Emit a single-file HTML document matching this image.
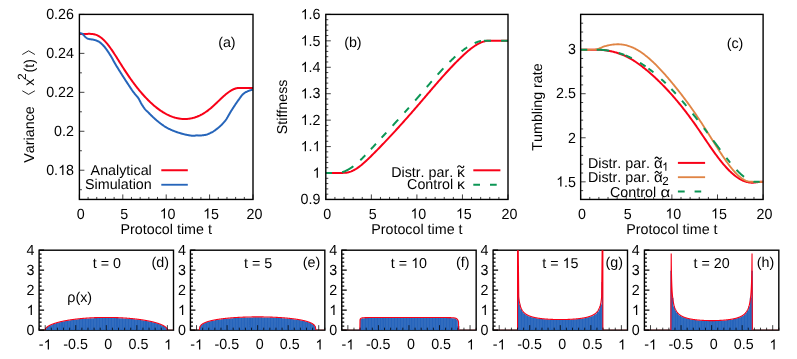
<!DOCTYPE html>
<html><head><meta charset="utf-8"><title>figure</title>
<style>html,body{margin:0;padding:0;background:#fff;overflow:hidden}svg{display:block}text{font-family:"Liberation Sans",sans-serif;font-kerning:none;text-rendering:geometricPrecision}</style>
</head><body>
<svg width="797" height="359" viewBox="0 0 797 359" font-family="'Liberation Sans', sans-serif" fill="#000">
<rect width="797" height="359" fill="#fff"/>
<g opacity="0.999">
<text transform="translate(76.82 218.5) scale(1 1.03)" font-size="14.3" xml:space="preserve">0</text>
<text transform="translate(120.22 218.5) scale(1 1.03)" font-size="14.3" xml:space="preserve">5</text>
<path d="M763 0h-180v1147q-65 -62 -170.5 -124t-189.5 -93v174q151 71 264 172t160 196h116v-1472z" transform="translate(159.75 218.5) scale(0.00688 -0.00698)"/>
<text transform="translate(167.6 218.5) scale(1 1.03)" font-size="14.3" xml:space="preserve">0</text>
<path d="M763 0h-180v1147q-65 -62 -170.5 -124t-189.5 -93v174q151 71 264 172t160 196h116v-1472z" transform="translate(203.15 218.5) scale(0.00688 -0.00698)"/>
<text transform="translate(211 218.5) scale(1 1.03)" font-size="14.3" xml:space="preserve">5</text>
<text transform="translate(246.45 218.5) scale(1 1.03)" font-size="14.3" xml:space="preserve">20</text>
<path d="M79.4 199.45v-5M88.08 199.45v-2.5M96.76 199.45v-2.5M105.44 199.45v-2.5M114.12 199.45v-2.5M122.8 199.45v-5M131.48 199.45v-2.5M140.16 199.45v-2.5M148.84 199.45v-2.5M157.52 199.45v-2.5M166.2 199.45v-5M174.88 199.45v-2.5M183.56 199.45v-2.5M192.24 199.45v-2.5M200.92 199.45v-2.5M209.6 199.45v-5M218.28 199.45v-2.5M226.96 199.45v-2.5M235.64 199.45v-2.5M244.32 199.45v-2.5M253 199.45v-5" stroke="#000" stroke-width="0.75" fill="none"/>
<text transform="translate(46.17 174.98) scale(1 1.03)" font-size="14.3" xml:space="preserve">0.</text>
<path d="M763 0h-180v1147q-65 -62 -170.5 -124t-189.5 -93v174q151 71 264 172t160 196h116v-1472z" transform="translate(58.19 174.98) scale(0.00688 -0.00698)"/>
<text transform="translate(66.05 174.98) scale(1 1.03)" font-size="14.3" xml:space="preserve">8</text>
<text transform="translate(54.12 136.02) scale(1 1.03)" font-size="14.3" xml:space="preserve">0.2</text>
<text transform="translate(46.17 97.07) scale(1 1.03)" font-size="14.3" xml:space="preserve">0.22</text>
<text transform="translate(46.17 58.11) scale(1 1.03)" font-size="14.3" xml:space="preserve">0.24</text>
<text transform="translate(46.17 19.15) scale(1 1.03)" font-size="14.3" xml:space="preserve">0.26</text>
<path d="M79.4 189.71h2.5M79.4 170.23h5M79.4 150.75h2.5M79.4 131.27h5M79.4 111.79h2.5M79.4 92.32h5M79.4 72.84h2.5M79.4 53.36h5M79.4 33.88h2.5M79.4 14.4h5" stroke="#000" stroke-width="0.75" fill="none"/>
<path d="M79.4 33.9 L80.07 33.9 L80.74 33.9 L81.41 33.9 L82.08 33.9 L82.75 33.9 L83.42 33.9 L84.09 33.9 L84.76 33.9 L85.43 33.89 L86.1 33.89 L86.77 33.88 L87.44 33.88 L88.11 33.87 L88.78 33.87 L89.45 33.87 L90.12 33.87 L90.79 33.89 L91.46 33.93 L92.14 33.98 L92.81 34.06 L93.48 34.16 L94.15 34.29 L94.82 34.45 L95.49 34.65 L96.16 34.88 L96.83 35.14 L97.5 35.44 L98.17 35.78 L98.84 36.15 L99.51 36.55 L100.18 36.99 L100.85 37.47 L101.52 37.99 L102.19 38.54 L102.86 39.13 L103.53 39.76 L104.2 40.42 L104.87 41.12 L105.54 41.85 L106.21 42.61 L106.88 43.4 L107.55 44.23 L108.22 45.08 L108.89 45.95 L109.56 46.85 L110.23 47.77 L110.9 48.72 L111.57 49.68 L112.24 50.66 L112.91 51.66 L113.58 52.67 L114.25 53.7 L114.92 54.73 L115.59 55.78 L116.26 56.83 L116.94 57.9 L117.61 58.96 L118.28 60.03 L118.95 61.11 L119.62 62.18 L120.29 63.25 L120.96 64.32 L121.63 65.39 L122.3 66.45 L122.97 67.5 L123.64 68.55 L124.31 69.59 L124.98 70.62 L125.65 71.65 L126.32 72.66 L126.99 73.67 L127.66 74.66 L128.33 75.65 L129 76.62 L129.67 77.59 L130.34 78.54 L131.01 79.49 L131.68 80.42 L132.35 81.35 L133.02 82.26 L133.69 83.17 L134.36 84.06 L135.03 84.95 L135.7 85.82 L136.37 86.69 L137.04 87.54 L137.71 88.38 L138.38 89.22 L139.05 90.04 L139.72 90.85 L140.39 91.65 L141.06 92.44 L141.74 93.22 L142.41 93.99 L143.08 94.75 L143.75 95.5 L144.42 96.23 L145.09 96.96 L145.76 97.67 L146.43 98.38 L147.1 99.07 L147.77 99.75 L148.44 100.42 L149.11 101.08 L149.78 101.73 L150.45 102.37 L151.12 103 L151.79 103.61 L152.46 104.21 L153.13 104.81 L153.8 105.39 L154.47 105.96 L155.14 106.51 L155.81 107.06 L156.48 107.6 L157.15 108.12 L157.82 108.63 L158.49 109.13 L159.16 109.62 L159.83 110.1 L160.5 110.56 L161.17 111.01 L161.84 111.45 L162.51 111.88 L163.18 112.3 L163.85 112.7 L164.52 113.1 L165.19 113.48 L165.86 113.85 L166.54 114.2 L167.21 114.55 L167.88 114.88 L168.55 115.2 L169.22 115.51 L169.89 115.8 L170.56 116.08 L171.23 116.35 L171.9 116.61 L172.57 116.86 L173.24 117.09 L173.91 117.31 L174.58 117.51 L175.25 117.71 L175.92 117.89 L176.59 118.05 L177.26 118.21 L177.93 118.35 L178.6 118.48 L179.27 118.59 L179.94 118.7 L180.61 118.78 L181.28 118.86 L181.95 118.92 L182.62 118.97 L183.29 119.01 L183.96 119.03 L184.63 119.04 L185.3 119.03 L185.97 119.01 L186.64 118.98 L187.31 118.93 L187.98 118.87 L188.65 118.79 L189.32 118.71 L189.99 118.6 L190.66 118.49 L191.34 118.36 L192.01 118.21 L192.68 118.05 L193.35 117.88 L194.02 117.69 L194.69 117.49 L195.36 117.27 L196.03 117.04 L196.7 116.8 L197.37 116.54 L198.04 116.26 L198.71 115.97 L199.38 115.67 L200.05 115.35 L200.72 115.01 L201.39 114.66 L202.06 114.3 L202.73 113.92 L203.4 113.53 L204.07 113.12 L204.74 112.69 L205.41 112.26 L206.08 111.8 L206.75 111.33 L207.42 110.85 L208.09 110.35 L208.76 109.83 L209.43 109.3 L210.1 108.75 L210.77 108.2 L211.44 107.62 L212.11 107.04 L212.78 106.44 L213.45 105.83 L214.12 105.22 L214.79 104.59 L215.46 103.96 L216.14 103.32 L216.81 102.68 L217.48 102.04 L218.15 101.39 L218.82 100.74 L219.49 100.1 L220.16 99.46 L220.83 98.82 L221.5 98.19 L222.17 97.56 L222.84 96.94 L223.51 96.34 L224.18 95.74 L224.85 95.16 L225.52 94.59 L226.19 94.03 L226.86 93.49 L227.53 92.97 L228.2 92.47 L228.87 91.98 L229.54 91.52 L230.21 91.07 L230.88 90.65 L231.55 90.25 L232.22 89.88 L232.89 89.53 L233.56 89.22 L234.23 88.94 L234.9 88.7 L235.57 88.49 L236.24 88.32 L236.91 88.19 L237.58 88.09 L238.25 88.02 L238.92 87.97 L239.59 87.94 L240.26 87.92 L240.94 87.91 L241.61 87.9 L242.28 87.9 L242.95 87.9 L243.62 87.9 L244.29 87.9 L244.96 87.9 L245.63 87.9 L246.3 87.9 L246.97 87.9 L247.64 87.9 L248.31 87.9 L248.98 87.9 L249.65 87.9 L250.32 87.9 L250.99 87.9 L251.66 87.9 L252.33 87.9 L253 87.9" fill="none" stroke="#f80018" stroke-width="2" stroke-linejoin="round"/>
<path d="M79.4 33 L79.83 33.06 L80.27 33.13 L80.7 33.23 L81.14 33.37 L81.57 33.53 L82.01 33.73 L82.44 33.98 L82.87 34.31 L83.31 34.73 L83.74 35.21 L84.18 35.72 L84.61 36.21 L85.05 36.66 L85.48 37.06 L85.92 37.42 L86.35 37.75 L86.78 38.05 L87.22 38.32 L87.65 38.55 L88.09 38.74 L88.52 38.89 L88.96 39.01 L89.39 39.1 L89.82 39.18 L90.26 39.24 L90.69 39.3 L91.13 39.36 L91.56 39.41 L92 39.47 L92.43 39.54 L92.86 39.61 L93.3 39.69 L93.73 39.79 L94.17 39.89 L94.6 40 L95.04 40.13 L95.47 40.26 L95.9 40.4 L96.34 40.55 L96.77 40.71 L97.21 40.88 L97.64 41.07 L98.08 41.27 L98.51 41.49 L98.95 41.74 L99.38 42.01 L99.81 42.31 L100.25 42.64 L100.68 43 L101.12 43.38 L101.55 43.78 L101.99 44.19 L102.42 44.62 L102.85 45.05 L103.29 45.5 L103.72 45.97 L104.16 46.46 L104.59 46.97 L105.03 47.5 L105.46 48.06 L105.89 48.64 L106.33 49.23 L106.76 49.84 L107.2 50.45 L107.63 51.08 L108.07 51.72 L108.5 52.37 L108.93 53.03 L109.37 53.7 L109.8 54.4 L110.24 55.11 L110.67 55.83 L111.11 56.57 L111.54 57.32 L111.98 58.08 L112.41 58.84 L112.84 59.61 L113.28 60.38 L113.71 61.15 L114.15 61.92 L114.58 62.69 L115.02 63.45 L115.45 64.21 L115.88 64.95 L116.32 65.69 L116.75 66.41 L117.19 67.13 L117.62 67.84 L118.06 68.54 L118.49 69.24 L118.92 69.94 L119.36 70.64 L119.79 71.33 L120.23 72.02 L120.66 72.71 L121.1 73.4 L121.53 74.08 L121.96 74.76 L122.4 75.44 L122.83 76.12 L123.27 76.8 L123.7 77.48 L124.14 78.15 L124.57 78.82 L125.01 79.5 L125.44 80.17 L125.87 80.84 L126.31 81.51 L126.74 82.17 L127.18 82.84 L127.61 83.5 L128.05 84.16 L128.48 84.81 L128.91 85.47 L129.35 86.12 L129.78 86.78 L130.22 87.43 L130.65 88.08 L131.09 88.74 L131.52 89.39 L131.95 90.04 L132.39 90.67 L132.82 91.28 L133.26 91.87 L133.69 92.44 L134.13 92.98 L134.56 93.51 L134.99 94.02 L135.43 94.53 L135.86 95.03 L136.3 95.54 L136.73 96.04 L137.17 96.55 L137.6 97.09 L138.04 97.68 L138.47 98.34 L138.9 99.09 L139.34 99.89 L139.77 100.73 L140.21 101.57 L140.64 102.39 L141.08 103.18 L141.51 103.94 L141.94 104.67 L142.38 105.38 L142.81 106.07 L143.25 106.75 L143.68 107.39 L144.12 108.01 L144.55 108.6 L144.98 109.14 L145.42 109.64 L145.85 110.1 L146.29 110.52 L146.72 110.92 L147.16 111.31 L147.59 111.72 L148.03 112.15 L148.46 112.59 L148.89 113.04 L149.33 113.5 L149.76 113.94 L150.2 114.38 L150.63 114.81 L151.07 115.24 L151.5 115.66 L151.93 116.07 L152.37 116.49 L152.8 116.9 L153.24 117.3 L153.67 117.71 L154.11 118.11 L154.54 118.5 L154.97 118.89 L155.41 119.28 L155.84 119.66 L156.28 120.04 L156.71 120.41 L157.15 120.77 L157.58 121.13 L158.01 121.49 L158.45 121.83 L158.88 122.18 L159.32 122.52 L159.75 122.86 L160.19 123.19 L160.62 123.53 L161.06 123.86 L161.49 124.18 L161.92 124.5 L162.36 124.82 L162.79 125.13 L163.23 125.44 L163.66 125.74 L164.1 126.03 L164.53 126.32 L164.96 126.6 L165.4 126.87 L165.83 127.13 L166.27 127.39 L166.7 127.64 L167.14 127.88 L167.57 128.11 L168 128.34 L168.44 128.56 L168.87 128.78 L169.31 128.99 L169.74 129.2 L170.18 129.41 L170.61 129.61 L171.04 129.8 L171.48 130 L171.91 130.19 L172.35 130.37 L172.78 130.55 L173.22 130.73 L173.65 130.9 L174.09 131.07 L174.52 131.24 L174.95 131.4 L175.39 131.57 L175.82 131.72 L176.26 131.88 L176.69 132.03 L177.13 132.18 L177.56 132.33 L177.99 132.48 L178.43 132.62 L178.86 132.76 L179.3 132.9 L179.73 133.03 L180.17 133.17 L180.6 133.3 L181.03 133.42 L181.47 133.55 L181.9 133.67 L182.34 133.79 L182.77 133.91 L183.21 134.02 L183.64 134.13 L184.07 134.24 L184.51 134.35 L184.94 134.45 L185.38 134.56 L185.81 134.65 L186.25 134.75 L186.68 134.84 L187.12 134.93 L187.55 135.02 L187.98 135.1 L188.42 135.18 L188.85 135.26 L189.29 135.34 L189.72 135.42 L190.16 135.49 L190.59 135.56 L191.02 135.61 L191.46 135.66 L191.89 135.69 L192.33 135.71 L192.76 135.72 L193.2 135.73 L193.63 135.74 L194.06 135.73 L194.5 135.71 L194.93 135.66 L195.37 135.58 L195.8 135.5 L196.24 135.42 L196.67 135.37 L197.11 135.36 L197.54 135.38 L197.97 135.43 L198.41 135.48 L198.84 135.53 L199.28 135.56 L199.71 135.56 L200.15 135.55 L200.58 135.52 L201.01 135.47 L201.45 135.42 L201.88 135.37 L202.32 135.32 L202.75 135.27 L203.19 135.22 L203.62 135.17 L204.05 135.11 L204.49 135.05 L204.92 134.99 L205.36 134.91 L205.79 134.82 L206.23 134.72 L206.66 134.59 L207.09 134.46 L207.53 134.31 L207.96 134.14 L208.4 133.96 L208.83 133.77 L209.27 133.58 L209.7 133.37 L210.14 133.16 L210.57 132.94 L211 132.72 L211.44 132.49 L211.87 132.26 L212.31 132.02 L212.74 131.78 L213.18 131.52 L213.61 131.25 L214.04 130.97 L214.48 130.68 L214.91 130.38 L215.35 130.07 L215.78 129.75 L216.22 129.42 L216.65 129.09 L217.08 128.75 L217.52 128.4 L217.95 128.05 L218.39 127.69 L218.82 127.32 L219.26 126.95 L219.69 126.57 L220.12 126.18 L220.56 125.78 L220.99 125.37 L221.43 124.96 L221.86 124.53 L222.3 124.08 L222.73 123.63 L223.17 123.16 L223.6 122.68 L224.03 122.18 L224.47 121.67 L224.9 121.14 L225.34 120.58 L225.77 120 L226.21 119.37 L226.64 118.72 L227.07 118.03 L227.51 117.32 L227.94 116.59 L228.38 115.84 L228.81 115.09 L229.25 114.32 L229.68 113.56 L230.11 112.8 L230.55 112.05 L230.98 111.32 L231.42 110.6 L231.85 109.9 L232.29 109.21 L232.72 108.53 L233.15 107.85 L233.59 107.19 L234.02 106.52 L234.46 105.86 L234.89 105.2 L235.33 104.55 L235.76 103.9 L236.2 103.27 L236.63 102.63 L237.06 102.01 L237.5 101.4 L237.93 100.79 L238.37 100.18 L238.8 99.58 L239.24 98.97 L239.67 98.36 L240.1 97.75 L240.54 97.14 L240.97 96.55 L241.41 95.98 L241.84 95.44 L242.28 94.93 L242.71 94.46 L243.14 94.04 L243.58 93.67 L244.01 93.33 L244.45 93.02 L244.88 92.74 L245.32 92.47 L245.75 92.22 L246.18 91.99 L246.62 91.77 L247.05 91.56 L247.49 91.36 L247.92 91.18 L248.36 91 L248.79 90.84 L249.23 90.68 L249.66 90.53 L250.09 90.38 L250.53 90.25 L250.96 90.12 L251.4 90 L251.83 89.9 L252.27 89.8 L252.7 89.7" fill="none" stroke="#2665ba" stroke-width="2" stroke-linejoin="round"/>
<text x="90.6" y="174.9" font-size="14.3" xml:space="preserve">Analytical</text>
<text x="85.03" y="189.3" font-size="14.3" xml:space="preserve">Simulation</text>
<line x1="161.3" y1="170.25" x2="187.8" y2="170.25" stroke="#f80018" stroke-width="2"/>
<line x1="161.3" y1="184.75" x2="187.8" y2="184.75" stroke="#2665ba" stroke-width="1.85"/>
<text x="218.16" y="46.8" font-size="14.3" xml:space="preserve">(a)</text>
<rect x="79.4" y="14.4" width="173.6" height="185.05" fill="none" stroke="#000" stroke-width="1.4"/>
<text x="120.5" y="234" font-size="14.3" xml:space="preserve">Protocol time t</text>
<g transform="translate(33.9 106.6) rotate(-90)" font-size="14.3">
<text x="-56.1" y="0">Variance</text>
<path d="M15.8 -11.6 L12.2 -5.3 L15.8 1.0" fill="none" stroke="#000" stroke-width="0.85"/>
<text x="20.8" y="0">x</text>
<text x="26.6" y="-8.2" font-size="11.9">2</text>
<text x="34.1" y="0">(t)</text>
<path d="M52.1 -11.6 L55.8 -5.3 L52.1 1.0" fill="none" stroke="#000" stroke-width="0.85"/>
</g>
<text transform="translate(323.22 218.5) scale(1 1.03)" font-size="14.3" xml:space="preserve">0</text>
<text transform="translate(368.77 218.5) scale(1 1.03)" font-size="14.3" xml:space="preserve">5</text>
<path d="M763 0h-180v1147q-65 -62 -170.5 -124t-189.5 -93v174q151 71 264 172t160 196h116v-1472z" transform="translate(410.45 218.5) scale(0.00688 -0.00698)"/>
<text transform="translate(418.3 218.5) scale(1 1.03)" font-size="14.3" xml:space="preserve">0</text>
<path d="M763 0h-180v1147q-65 -62 -170.5 -124t-189.5 -93v174q151 71 264 172t160 196h116v-1472z" transform="translate(456 218.5) scale(0.00688 -0.00698)"/>
<text transform="translate(463.85 218.5) scale(1 1.03)" font-size="14.3" xml:space="preserve">5</text>
<text transform="translate(501.45 218.5) scale(1 1.03)" font-size="14.3" xml:space="preserve">20</text>
<path d="M325.8 199.45v-5M334.91 199.45v-2.5M344.02 199.45v-2.5M353.13 199.45v-2.5M362.24 199.45v-2.5M371.35 199.45v-5M380.46 199.45v-2.5M389.57 199.45v-2.5M398.68 199.45v-2.5M407.79 199.45v-2.5M416.9 199.45v-5M426.01 199.45v-2.5M435.12 199.45v-2.5M444.23 199.45v-2.5M453.34 199.45v-2.5M462.45 199.45v-5M471.56 199.45v-2.5M480.67 199.45v-2.5M489.78 199.45v-2.5M498.89 199.45v-2.5M508 199.45v-5" stroke="#000" stroke-width="0.75" fill="none"/>
<text transform="translate(300.62 204.2) scale(1 1.03)" font-size="14.3" xml:space="preserve">0.9</text>
<path d="M763 0h-180v1147q-65 -62 -170.5 -124t-189.5 -93v174q151 71 264 172t160 196h116v-1472z" transform="translate(312.65 177.76) scale(0.00688 -0.00698)"/>
<path d="M763 0h-180v1147q-65 -62 -170.5 -124t-189.5 -93v174q151 71 264 172t160 196h116v-1472z" transform="translate(300.72 151.33) scale(0.00688 -0.00698)"/>
<text transform="translate(308.57 151.33) scale(1 1.03)" font-size="14.3" xml:space="preserve">.</text>
<path d="M763 0h-180v1147q-65 -62 -170.5 -124t-189.5 -93v174q151 71 264 172t160 196h116v-1472z" transform="translate(312.65 151.33) scale(0.00688 -0.00698)"/>
<path d="M763 0h-180v1147q-65 -62 -170.5 -124t-189.5 -93v174q151 71 264 172t160 196h116v-1472z" transform="translate(300.72 124.89) scale(0.00688 -0.00698)"/>
<text transform="translate(308.57 124.89) scale(1 1.03)" font-size="14.3" xml:space="preserve">.2</text>
<path d="M763 0h-180v1147q-65 -62 -170.5 -124t-189.5 -93v174q151 71 264 172t160 196h116v-1472z" transform="translate(300.72 98.46) scale(0.00688 -0.00698)"/>
<text transform="translate(308.57 98.46) scale(1 1.03)" font-size="14.3" xml:space="preserve">.3</text>
<path d="M763 0h-180v1147q-65 -62 -170.5 -124t-189.5 -93v174q151 71 264 172t160 196h116v-1472z" transform="translate(300.72 72.02) scale(0.00688 -0.00698)"/>
<text transform="translate(308.57 72.02) scale(1 1.03)" font-size="14.3" xml:space="preserve">.4</text>
<path d="M763 0h-180v1147q-65 -62 -170.5 -124t-189.5 -93v174q151 71 264 172t160 196h116v-1472z" transform="translate(300.72 45.59) scale(0.00688 -0.00698)"/>
<text transform="translate(308.57 45.59) scale(1 1.03)" font-size="14.3" xml:space="preserve">.5</text>
<path d="M763 0h-180v1147q-65 -62 -170.5 -124t-189.5 -93v174q151 71 264 172t160 196h116v-1472z" transform="translate(300.72 19.15) scale(0.00688 -0.00698)"/>
<text transform="translate(308.57 19.15) scale(1 1.03)" font-size="14.3" xml:space="preserve">.6</text>
<path d="M325.8 199.45h5M325.8 194.16h2.5M325.8 188.88h2.5M325.8 183.59h2.5M325.8 178.3h2.5M325.8 173.01h5M325.8 167.73h2.5M325.8 162.44h2.5M325.8 157.15h2.5M325.8 151.87h2.5M325.8 146.58h5M325.8 141.29h2.5M325.8 136h2.5M325.8 130.72h2.5M325.8 125.43h2.5M325.8 120.14h5M325.8 114.86h2.5M325.8 109.57h2.5M325.8 104.28h2.5M325.8 98.99h2.5M325.8 93.71h5M325.8 88.42h2.5M325.8 83.13h2.5M325.8 77.85h2.5M325.8 72.56h2.5M325.8 67.27h5M325.8 61.98h2.5M325.8 56.7h2.5M325.8 51.41h2.5M325.8 46.12h2.5M325.8 40.84h5M325.8 35.55h2.5M325.8 30.26h2.5M325.8 24.97h2.5M325.8 19.69h2.5M325.8 14.4h5" stroke="#000" stroke-width="0.75" fill="none"/>
<path d="M326 172.9 L326.7 172.9 L327.41 172.9 L328.11 172.9 L328.81 172.9 L329.51 172.9 L330.22 172.9 L330.92 172.9 L331.62 172.9 L332.32 172.9 L333.03 172.9 L333.73 172.9 L334.43 172.9 L335.14 172.9 L335.84 172.9 L336.54 172.9 L337.24 172.9 L337.95 172.9 L338.65 172.9 L339.35 172.9 L340.05 172.91 L340.76 172.91 L341.46 172.9 L342.16 172.9 L342.86 172.89 L343.57 172.87 L344.27 172.84 L344.97 172.8 L345.68 172.74 L346.38 172.65 L347.08 172.54 L347.78 172.41 L348.49 172.25 L349.19 172.06 L349.89 171.84 L350.59 171.6 L351.3 171.33 L352 171.04 L352.7 170.72 L353.41 170.37 L354.11 170.01 L354.81 169.62 L355.51 169.21 L356.22 168.78 L356.92 168.33 L357.62 167.85 L358.32 167.36 L359.03 166.85 L359.73 166.33 L360.43 165.78 L361.14 165.23 L361.84 164.65 L362.54 164.06 L363.24 163.46 L363.95 162.85 L364.65 162.23 L365.35 161.59 L366.05 160.95 L366.76 160.29 L367.46 159.63 L368.16 158.96 L368.86 158.29 L369.57 157.6 L370.27 156.92 L370.97 156.23 L371.68 155.53 L372.38 154.83 L373.08 154.13 L373.78 153.42 L374.49 152.72 L375.19 152.01 L375.89 151.3 L376.59 150.58 L377.3 149.87 L378 149.15 L378.7 148.43 L379.41 147.71 L380.11 146.98 L380.81 146.25 L381.51 145.53 L382.22 144.8 L382.92 144.06 L383.62 143.33 L384.32 142.59 L385.03 141.86 L385.73 141.12 L386.43 140.37 L387.14 139.63 L387.84 138.89 L388.54 138.14 L389.24 137.39 L389.95 136.64 L390.65 135.88 L391.35 135.13 L392.05 134.37 L392.76 133.61 L393.46 132.85 L394.16 132.09 L394.86 131.33 L395.57 130.56 L396.27 129.79 L396.97 129.02 L397.68 128.25 L398.38 127.48 L399.08 126.71 L399.78 125.93 L400.49 125.15 L401.19 124.37 L401.89 123.59 L402.59 122.81 L403.3 122.03 L404 121.24 L404.7 120.45 L405.41 119.66 L406.11 118.87 L406.81 118.08 L407.51 117.29 L408.22 116.49 L408.92 115.69 L409.62 114.89 L410.32 114.09 L411.03 113.29 L411.73 112.49 L412.43 111.68 L413.14 110.88 L413.84 110.07 L414.54 109.26 L415.24 108.45 L415.95 107.64 L416.65 106.83 L417.35 106.01 L418.05 105.2 L418.76 104.38 L419.46 103.56 L420.16 102.74 L420.86 101.92 L421.57 101.1 L422.27 100.28 L422.97 99.46 L423.68 98.63 L424.38 97.81 L425.08 96.99 L425.78 96.16 L426.49 95.34 L427.19 94.52 L427.89 93.69 L428.59 92.87 L429.3 92.05 L430 91.23 L430.7 90.41 L431.41 89.58 L432.11 88.77 L432.81 87.95 L433.51 87.13 L434.22 86.31 L434.92 85.5 L435.62 84.69 L436.32 83.88 L437.03 83.07 L437.73 82.26 L438.43 81.45 L439.14 80.65 L439.84 79.85 L440.54 79.05 L441.24 78.26 L441.95 77.46 L442.65 76.67 L443.35 75.88 L444.05 75.1 L444.76 74.32 L445.46 73.54 L446.16 72.77 L446.86 71.99 L447.57 71.23 L448.27 70.46 L448.97 69.7 L449.68 68.95 L450.38 68.19 L451.08 67.45 L451.78 66.7 L452.49 65.96 L453.19 65.23 L453.89 64.5 L454.59 63.77 L455.3 63.05 L456 62.34 L456.7 61.63 L457.41 60.92 L458.11 60.22 L458.81 59.53 L459.51 58.84 L460.22 58.16 L460.92 57.48 L461.62 56.81 L462.32 56.15 L463.03 55.49 L463.73 54.84 L464.43 54.2 L465.14 53.56 L465.84 52.94 L466.54 52.32 L467.24 51.71 L467.95 51.11 L468.65 50.52 L469.35 49.94 L470.05 49.37 L470.76 48.82 L471.46 48.28 L472.16 47.75 L472.86 47.23 L473.57 46.73 L474.27 46.25 L474.97 45.78 L475.68 45.33 L476.38 44.89 L477.08 44.47 L477.78 44.07 L478.49 43.69 L479.19 43.33 L479.89 42.99 L480.59 42.67 L481.3 42.37 L482 42.09 L482.7 41.84 L483.41 41.61 L484.11 41.41 L484.81 41.23 L485.51 41.08 L486.22 40.95 L486.92 40.85 L487.62 40.78 L488.32 40.73 L489.03 40.69 L489.73 40.68 L490.43 40.67 L491.14 40.68 L491.84 40.69 L492.54 40.7 L493.24 40.71 L493.95 40.72 L494.65 40.73 L495.35 40.74 L496.05 40.74 L496.76 40.75 L497.46 40.75 L498.16 40.75 L498.86 40.75 L499.57 40.75 L500.27 40.75 L500.97 40.75 L501.68 40.75 L502.38 40.75 L503.08 40.75 L503.78 40.75 L504.49 40.75 L505.19 40.75 L505.89 40.75 L506.59 40.75 L507.3 40.75 L508 40.75" fill="none" stroke="#f80018" stroke-width="2" stroke-linejoin="round"/>
<path d="M326 172.9 L326.3 172.9 L326.61 172.9 L326.91 172.9 L327.22 172.9 L327.52 172.9 L327.82 172.9 L328.13 172.9 L328.43 172.9 L328.73 172.9 L329.04 172.9 L329.34 172.9 L329.65 172.9 L329.95 172.9 L330.25 172.9 L330.56 172.9 L330.86 172.9 L331.17 172.9 L331.47 172.9 L331.77 172.9 L332.08 172.9 L332.38 172.9 L332.68 172.9 L332.99 172.9 L333.29 172.9 L333.6 172.9 L333.9 172.9 L334.2 172.9 L334.51 172.9 L334.81 172.9 L335.12 172.9 L335.42 172.9 L335.72 172.9 L336.03 172.89 L336.33 172.89 L336.63 172.88 L336.94 172.88 L337.24 172.87 L337.55 172.86 L337.85 172.85 L338.15 172.83 L338.46 172.81 L338.76 172.79 L339.07 172.77 L339.37 172.74 L339.67 172.7 L339.98 172.66 L340.28 172.62 L340.58 172.57 L340.89 172.51 L341.19 172.45 L341.5 172.39 L341.8 172.31 L342.1 172.23 L342.41 172.15 L342.71 172.05 L343.02 171.96 L343.32 171.85 L343.62 171.74 L343.93 171.63 L344.23 171.51 L344.53 171.39 L344.84 171.26 L345.14 171.12 L345.45 170.99 L345.75 170.85 L346.05 170.7 L346.36 170.55 L346.66 170.4 L346.96 170.25 L347.27 170.09 L347.57 169.93 L347.88 169.76 L348.18 169.59 L348.48 169.42 L348.79 169.25 L349.09 169.07 L349.4 168.89 L349.7 168.7 L350 168.51 L350.31 168.32 L350.61 168.13 L350.91 167.93 L351.22 167.73 L351.52 167.52 L351.83 167.31 L352.13 167.1 L352.43 166.88 L352.74 166.66 L353.04 166.44 L353.35 166.21 L353.65 165.98 L353.95 165.74 L354.26 165.51 L354.56 165.27 L354.86 165.03 L355.17 164.78 L355.47 164.53 L355.78 164.28 L356.08 164.02 L356.38 163.77 L356.69 163.51 L356.99 163.24 L357.3 162.98 L357.6 162.71 L357.9 162.44 L358.21 162.17 L358.51 161.89 L358.81 161.61 L359.12 161.33 L359.42 161.05 L359.73 160.77 L360.03 160.48 L360.33 160.19 L360.64 159.9 L360.94 159.61 L361.25 159.31 L361.55 159.01 L361.85 158.72 L362.16 158.42 L362.46 158.11 L362.76 157.81 L363.07 157.5 L363.37 157.2 L363.68 156.89 L363.98 156.58 L364.28 156.27 L364.59 155.96 L364.89 155.64 L365.2 155.33 L365.5 155.01 L365.8 154.69 L366.11 154.38 L366.41 154.06 L366.71 153.74 L367.02 153.42 L367.32 153.09 L367.63 152.77 L367.93 152.45 L368.23 152.12 L368.54 151.8 L368.84 151.47 L369.15 151.15 L369.45 150.82 L369.75 150.5 L370.06 150.17 L370.36 149.84 L370.66 149.51 L370.97 149.19 L371.27 148.86 L371.58 148.53 L371.88 148.2 L372.18 147.87 L372.49 147.54 L372.79 147.21 L373.1 146.89 L373.4 146.56 L373.7 146.23 L374.01 145.9 L374.31 145.57 L374.61 145.24 L374.92 144.91 L375.22 144.58 L375.53 144.25 L375.83 143.92 L376.13 143.59 L376.44 143.27 L376.74 142.94 L377.05 142.61 L377.35 142.28 L377.65 141.95 L377.96 141.62 L378.26 141.29 L378.56 140.96 L378.87 140.63 L379.17 140.3 L379.48 139.98 L379.78 139.65 L380.08 139.32 L380.39 138.99 L380.69 138.66 L380.99 138.33 L381.3 138 L381.6 137.67 L381.91 137.34 L382.21 137.01 L382.51 136.68 L382.82 136.35 L383.12 136.03 L383.43 135.7 L383.73 135.37 L384.03 135.04 L384.34 134.71 L384.64 134.38 L384.94 134.05 L385.25 133.72 L385.55 133.39 L385.86 133.06 L386.16 132.73 L386.46 132.4 L386.77 132.07 L387.07 131.74 L387.38 131.41 L387.68 131.08 L387.98 130.75 L388.29 130.42 L388.59 130.09 L388.89 129.76 L389.2 129.43 L389.5 129.09 L389.81 128.76 L390.11 128.43 L390.41 128.1 L390.72 127.77 L391.02 127.44 L391.33 127.11 L391.63 126.78 L391.93 126.44 L392.24 126.11 L392.54 125.78 L392.84 125.45 L393.15 125.12 L393.45 124.78 L393.76 124.45 L394.06 124.12 L394.36 123.79 L394.67 123.45 L394.97 123.12 L395.28 122.79 L395.58 122.45 L395.88 122.12 L396.19 121.79 L396.49 121.45 L396.79 121.12 L397.1 120.79 L397.4 120.45 L397.71 120.12 L398.01 119.78 L398.31 119.45 L398.62 119.11 L398.92 118.78 L399.23 118.44 L399.53 118.11 L399.83 117.77 L400.14 117.44 L400.44 117.1 L400.74 116.76 L401.05 116.43 L401.35 116.09 L401.66 115.75 L401.96 115.42 L402.26 115.08 L402.57 114.74 L402.87 114.4 L403.18 114.07 L403.48 113.73 L403.78 113.39 L404.09 113.05 L404.39 112.71 L404.69 112.37 L405 112.04 L405.3 111.7 L405.61 111.36 L405.91 111.02 L406.21 110.68 L406.52 110.34 L406.82 110 L407.13 109.65 L407.43 109.31 L407.73 108.97 L408.04 108.63 L408.34 108.29 L408.64 107.95 L408.95 107.6 L409.25 107.26 L409.56 106.92 L409.86 106.58 L410.16 106.23 L410.47 105.89 L410.77 105.54 L411.08 105.2 L411.38 104.86 L411.68 104.51 L411.99 104.17 L412.29 103.82 L412.59 103.47 L412.9 103.13 L413.2 102.78 L413.51 102.44 L413.81 102.09 L414.11 101.74 L414.42 101.39 L414.72 101.05 L415.03 100.7 L415.33 100.35 L415.63 100 L415.94 99.65 L416.24 99.3 L416.54 98.95 L416.85 98.6 L417.15 98.25 L417.46 97.9 L417.76 97.55 L418.06 97.2 L418.37 96.85 L418.67 96.5 L418.97 96.15 L419.28 95.79 L419.58 95.44 L419.89 95.09 L420.19 94.74 L420.49 94.38 L420.8 94.03 L421.1 93.68 L421.41 93.32 L421.71 92.97 L422.01 92.62 L422.32 92.26 L422.62 91.91 L422.92 91.55 L423.23 91.2 L423.53 90.85 L423.84 90.49 L424.14 90.14 L424.44 89.78 L424.75 89.43 L425.05 89.07 L425.36 88.72 L425.66 88.37 L425.96 88.01 L426.27 87.66 L426.57 87.3 L426.87 86.95 L427.18 86.6 L427.48 86.24 L427.79 85.89 L428.09 85.54 L428.39 85.18 L428.7 84.83 L429 84.48 L429.31 84.13 L429.61 83.77 L429.91 83.42 L430.22 83.07 L430.52 82.72 L430.82 82.37 L431.13 82.02 L431.43 81.67 L431.74 81.32 L432.04 80.97 L432.34 80.62 L432.65 80.27 L432.95 79.92 L433.26 79.57 L433.56 79.23 L433.86 78.88 L434.17 78.53 L434.47 78.19 L434.77 77.84 L435.08 77.5 L435.38 77.15 L435.69 76.81 L435.99 76.47 L436.29 76.13 L436.6 75.78 L436.9 75.44 L437.21 75.1 L437.51 74.76 L437.81 74.42 L438.12 74.08 L438.42 73.75 L438.72 73.41 L439.03 73.07 L439.33 72.74 L439.64 72.4 L439.94 72.07 L440.24 71.74 L440.55 71.4 L440.85 71.07 L441.16 70.74 L441.46 70.41 L441.76 70.08 L442.07 69.75 L442.37 69.43 L442.67 69.1 L442.98 68.78 L443.28 68.45 L443.59 68.13 L443.89 67.81 L444.19 67.49 L444.5 67.16 L444.8 66.85 L445.11 66.53 L445.41 66.21 L445.71 65.89 L446.02 65.58 L446.32 65.27 L446.62 64.95 L446.93 64.64 L447.23 64.33 L447.54 64.02 L447.84 63.72 L448.14 63.41 L448.45 63.1 L448.75 62.8 L449.06 62.5 L449.36 62.19 L449.66 61.89 L449.97 61.6 L450.27 61.3 L450.57 61 L450.88 60.71 L451.18 60.41 L451.49 60.12 L451.79 59.83 L452.09 59.54 L452.4 59.25 L452.7 58.97 L453.01 58.68 L453.31 58.4 L453.61 58.11 L453.92 57.83 L454.22 57.56 L454.52 57.28 L454.83 57 L455.13 56.73 L455.44 56.45 L455.74 56.18 L456.04 55.91 L456.35 55.65 L456.65 55.38 L456.95 55.12 L457.26 54.85 L457.56 54.59 L457.87 54.33 L458.17 54.07 L458.47 53.82 L458.78 53.56 L459.08 53.31 L459.39 53.06 L459.69 52.81 L459.99 52.57 L460.3 52.32 L460.6 52.08 L460.9 51.84 L461.21 51.6 L461.51 51.36 L461.82 51.12 L462.12 50.89 L462.42 50.66 L462.73 50.43 L463.03 50.2 L463.34 49.98 L463.64 49.75 L463.94 49.53 L464.25 49.31 L464.55 49.09 L464.85 48.88 L465.16 48.66 L465.46 48.45 L465.77 48.24 L466.07 48.04 L466.37 47.83 L466.68 47.63 L466.98 47.43 L467.29 47.23 L467.59 47.04 L467.89 46.84 L468.2 46.65 L468.5 46.46 L468.8 46.28 L469.11 46.09 L469.41 45.91 L469.72 45.73 L470.02 45.55 L470.32 45.38 L470.63 45.2 L470.93 45.03 L471.24 44.87 L471.54 44.7 L471.84 44.54 L472.15 44.37 L472.45 44.21 L472.75 44.06 L473.06 43.9 L473.36 43.75 L473.67 43.6 L473.97 43.45 L474.27 43.3 L474.58 43.16 L474.88 43.01 L475.19 42.87 L475.49 42.73 L475.79 42.6 L476.1 42.47 L476.4 42.34 L476.7 42.21 L477.01 42.09 L477.31 41.97 L477.62 41.86 L477.92 41.75 L478.22 41.65 L478.53 41.56 L478.83 41.46 L479.14 41.38 L479.44 41.3 L479.74 41.23 L480.05 41.16 L480.35 41.1 L480.65 41.05 L480.96 41 L481.26 40.96 L481.57 40.92 L481.87 40.89 L482.17 40.86 L482.48 40.84 L482.78 40.82 L483.09 40.8 L483.39 40.79 L483.69 40.78 L484 40.77 L484.3 40.76 L484.6 40.76 L484.91 40.75 L485.21 40.75 L485.52 40.75 L485.82 40.75 L486.12 40.75 L486.43 40.75 L486.73 40.75 L487.04 40.75 L487.34 40.75 L487.64 40.75 L487.95 40.75 L488.25 40.75 L488.55 40.75 L488.86 40.75 L489.16 40.75 L489.47 40.75 L489.77 40.75 L490.07 40.75 L490.38 40.75 L490.68 40.75 L490.98 40.75 L491.29 40.75 L491.59 40.75 L491.9 40.75 L492.2 40.75 L492.5 40.75 L492.81 40.75 L493.11 40.75 L493.42 40.75 L493.72 40.75 L494.02 40.75 L494.33 40.75 L494.63 40.75 L494.93 40.75 L495.24 40.75 L495.54 40.75 L495.85 40.75 L496.15 40.75 L496.45 40.75 L496.76 40.75 L497.06 40.75 L497.37 40.75 L497.67 40.75 L497.97 40.75 L498.28 40.75 L498.58 40.75 L498.88 40.75 L499.19 40.75 L499.49 40.75 L499.8 40.75 L500.1 40.75 L500.4 40.75 L500.71 40.75 L501.01 40.75 L501.32 40.75 L501.62 40.75 L501.92 40.75 L502.23 40.75 L502.53 40.75 L502.83 40.75 L503.14 40.75 L503.44 40.75 L503.75 40.75 L504.05 40.75 L504.35 40.75 L504.66 40.75 L504.96 40.75 L505.27 40.75 L505.57 40.75 L505.87 40.75 L506.18 40.75 L506.48 40.75 L506.78 40.75 L507.09 40.75 L507.39 40.75 L507.7 40.75 L508 40.75" fill="none" stroke="#0c9655" stroke-width="2" stroke-dasharray="6 10.15 12.89 9.11 7.07 8.18 7.52 8.26 6.93 9.31 8.31 9.4 6.61 9.54 8.56 9.21 7.65 8.92 8.44 8.89 7.84 8.23 6.89 8.6 6.67 3.11 6.9 10.1 6.9 1000"/>
<text x="391.22" y="176.9" font-size="14.3" xml:space="preserve">Distr. par.</text>
<text transform="translate(464.8 176.9) scale(1.1 1)" text-anchor="end" font-size="14.3">&#954;</text>
<path d="M457.4 167.45 c0.92 -2.09 2.05 -2.18 3.3 -0.85 s2.38 2.09 3.3 -0.85" fill="none" stroke="#000" stroke-width="1.15" stroke-linecap="butt"/>
<text x="407.1" y="188.6" font-size="14.3" xml:space="preserve">Control</text>
<text transform="translate(464.8 188.6) scale(1.1 1)" text-anchor="end" font-size="14.3">&#954;</text>
<line x1="473.3" y1="170.3" x2="500.4" y2="170.3" stroke="#f80018" stroke-width="2"/>
<path d="M473.3 184.7h6.7M490.0 184.7h6.7" stroke="#0c9655" stroke-width="2"/>
<text x="344.16" y="47" font-size="14.3" xml:space="preserve">(b)</text>
<rect x="325.8" y="14.4" width="182.2" height="185.05" fill="none" stroke="#000" stroke-width="1.4"/>
<text x="371.2" y="234" font-size="14.3" xml:space="preserve">Protocol time t</text>
<text transform="translate(287.1 106.9) rotate(-90)" text-anchor="middle" font-size="14.3">Stiffness</text>
<text transform="translate(578.07 218.5) scale(1 1.03)" font-size="14.3" xml:space="preserve">0</text>
<text transform="translate(623.69 218.5) scale(1 1.03)" font-size="14.3" xml:space="preserve">5</text>
<path d="M763 0h-180v1147q-65 -62 -170.5 -124t-189.5 -93v174q151 71 264 172t160 196h116v-1472z" transform="translate(665.42 218.5) scale(0.00688 -0.00698)"/>
<text transform="translate(673.27 218.5) scale(1 1.03)" font-size="14.3" xml:space="preserve">0</text>
<path d="M763 0h-180v1147q-65 -62 -170.5 -124t-189.5 -93v174q151 71 264 172t160 196h116v-1472z" transform="translate(711.03 218.5) scale(0.00688 -0.00698)"/>
<text transform="translate(718.89 218.5) scale(1 1.03)" font-size="14.3" xml:space="preserve">5</text>
<text transform="translate(756.55 218.5) scale(1 1.03)" font-size="14.3" xml:space="preserve">20</text>
<path d="M580.65 199.45v-5M589.77 199.45v-2.5M598.89 199.45v-2.5M608.02 199.45v-2.5M617.14 199.45v-2.5M626.26 199.45v-5M635.38 199.45v-2.5M644.51 199.45v-2.5M653.63 199.45v-2.5M662.75 199.45v-2.5M671.88 199.45v-5M681 199.45v-2.5M690.12 199.45v-2.5M699.24 199.45v-2.5M708.37 199.45v-2.5M717.49 199.45v-5M726.61 199.45v-2.5M735.73 199.45v-2.5M744.86 199.45v-2.5M753.98 199.45v-2.5M763.1 199.45v-5" stroke="#000" stroke-width="0.75" fill="none"/>
<path d="M763 0h-180v1147q-65 -62 -170.5 -124t-189.5 -93v174q151 71 264 172t160 196h116v-1472z" transform="translate(556.22 186.58) scale(0.00688 -0.00698)"/>
<text transform="translate(564.07 186.58) scale(1 1.03)" font-size="14.3" xml:space="preserve">.5</text>
<text transform="translate(568.05 142.52) scale(1 1.03)" font-size="14.3" xml:space="preserve">2</text>
<text transform="translate(556.12 98.46) scale(1 1.03)" font-size="14.3" xml:space="preserve">2.5</text>
<text transform="translate(568.05 54.4) scale(1 1.03)" font-size="14.3" xml:space="preserve">3</text>
<path d="M580.65 199.45h2.5M580.65 190.64h2.5M580.65 181.83h5M580.65 173.01h2.5M580.65 164.2h2.5M580.65 155.39h2.5M580.65 146.58h2.5M580.65 137.77h5M580.65 128.95h2.5M580.65 120.14h2.5M580.65 111.33h2.5M580.65 102.52h2.5M580.65 93.71h5M580.65 84.9h2.5M580.65 76.08h2.5M580.65 67.27h2.5M580.65 58.46h2.5M580.65 49.65h5M580.65 40.84h2.5M580.65 32.02h2.5M580.65 23.21h2.5M580.65 14.4h2.5" stroke="#000" stroke-width="0.75" fill="none"/>
<path d="M581 49.7 L581.7 49.7 L582.41 49.7 L583.11 49.7 L583.81 49.7 L584.52 49.7 L585.22 49.7 L585.92 49.7 L586.62 49.7 L587.33 49.7 L588.03 49.7 L588.73 49.7 L589.44 49.7 L590.14 49.7 L590.84 49.7 L591.55 49.7 L592.25 49.7 L592.95 49.7 L593.66 49.7 L594.36 49.7 L595.06 49.7 L595.76 49.7 L596.47 49.71 L597.17 49.72 L597.87 49.73 L598.58 49.74 L599.28 49.77 L599.98 49.8 L600.69 49.84 L601.39 49.89 L602.09 49.95 L602.8 50.02 L603.5 50.09 L604.2 50.17 L604.91 50.26 L605.61 50.36 L606.31 50.46 L607.01 50.56 L607.72 50.68 L608.42 50.79 L609.12 50.92 L609.83 51.05 L610.53 51.19 L611.23 51.33 L611.94 51.49 L612.64 51.65 L613.34 51.81 L614.05 51.99 L614.75 52.17 L615.45 52.37 L616.15 52.57 L616.86 52.78 L617.56 52.99 L618.26 53.22 L618.97 53.46 L619.67 53.7 L620.37 53.95 L621.08 54.22 L621.78 54.49 L622.48 54.77 L623.19 55.06 L623.89 55.36 L624.59 55.67 L625.29 55.99 L626 56.32 L626.7 56.67 L627.4 57.02 L628.11 57.38 L628.81 57.75 L629.51 58.13 L630.22 58.52 L630.92 58.92 L631.62 59.34 L632.33 59.76 L633.03 60.19 L633.73 60.63 L634.43 61.07 L635.14 61.53 L635.84 62 L636.54 62.47 L637.25 62.96 L637.95 63.45 L638.65 63.95 L639.36 64.45 L640.06 64.97 L640.76 65.49 L641.47 66.02 L642.17 66.56 L642.87 67.11 L643.57 67.66 L644.28 68.22 L644.98 68.78 L645.68 69.36 L646.39 69.94 L647.09 70.52 L647.79 71.11 L648.5 71.71 L649.2 72.31 L649.9 72.92 L650.61 73.54 L651.31 74.16 L652.01 74.79 L652.72 75.42 L653.42 76.06 L654.12 76.7 L654.82 77.35 L655.53 78 L656.23 78.67 L656.93 79.33 L657.64 80 L658.34 80.68 L659.04 81.37 L659.75 82.05 L660.45 82.75 L661.15 83.45 L661.86 84.16 L662.56 84.87 L663.26 85.59 L663.96 86.31 L664.67 87.04 L665.37 87.78 L666.07 88.52 L666.78 89.27 L667.48 90.02 L668.18 90.78 L668.89 91.54 L669.59 92.31 L670.29 93.09 L671 93.87 L671.7 94.66 L672.4 95.46 L673.1 96.26 L673.81 97.07 L674.51 97.88 L675.21 98.7 L675.92 99.53 L676.62 100.36 L677.32 101.19 L678.03 102.04 L678.73 102.89 L679.43 103.74 L680.14 104.61 L680.84 105.48 L681.54 106.35 L682.24 107.23 L682.95 108.12 L683.65 109.01 L684.35 109.91 L685.06 110.82 L685.76 111.73 L686.46 112.65 L687.17 113.57 L687.87 114.51 L688.57 115.44 L689.28 116.39 L689.98 117.34 L690.68 118.3 L691.38 119.26 L692.09 120.23 L692.79 121.21 L693.49 122.19 L694.2 123.18 L694.9 124.17 L695.6 125.18 L696.31 126.18 L697.01 127.2 L697.71 128.21 L698.42 129.24 L699.12 130.26 L699.82 131.29 L700.53 132.33 L701.23 133.36 L701.93 134.4 L702.63 135.44 L703.34 136.48 L704.04 137.53 L704.74 138.57 L705.45 139.61 L706.15 140.65 L706.85 141.69 L707.56 142.72 L708.26 143.76 L708.96 144.78 L709.67 145.81 L710.37 146.83 L711.07 147.85 L711.77 148.85 L712.48 149.86 L713.18 150.85 L713.88 151.84 L714.59 152.82 L715.29 153.79 L715.99 154.76 L716.7 155.71 L717.4 156.65 L718.1 157.58 L718.81 158.5 L719.51 159.41 L720.21 160.31 L720.91 161.19 L721.62 162.06 L722.32 162.92 L723.02 163.77 L723.73 164.6 L724.43 165.41 L725.13 166.21 L725.84 167 L726.54 167.77 L727.24 168.52 L727.95 169.26 L728.65 169.99 L729.35 170.69 L730.05 171.38 L730.76 172.05 L731.46 172.71 L732.16 173.34 L732.87 173.96 L733.57 174.56 L734.27 175.14 L734.98 175.7 L735.68 176.24 L736.38 176.76 L737.09 177.26 L737.79 177.74 L738.49 178.19 L739.19 178.63 L739.9 179.05 L740.6 179.44 L741.3 179.81 L742.01 180.16 L742.71 180.49 L743.41 180.79 L744.12 181.07 L744.82 181.33 L745.52 181.57 L746.23 181.78 L746.93 181.97 L747.63 182.14 L748.34 182.28 L749.04 182.4 L749.74 182.5 L750.44 182.58 L751.15 182.63 L751.85 182.66 L752.55 182.66 L753.26 182.64 L753.96 182.6 L754.66 182.53 L755.37 182.45 L756.07 182.36 L756.77 182.26 L757.48 182.15 L758.18 182.05 L758.88 181.97 L759.58 181.9 L760.29 181.84 L760.99 181.81 L761.69 181.8 L762.4 181.79 L763.1 181.8" fill="none" stroke="#f80018" stroke-width="2" stroke-linejoin="round"/>
<path d="M581 49.7 L581.7 49.7 L582.41 49.7 L583.11 49.7 L583.81 49.7 L584.52 49.7 L585.22 49.7 L585.92 49.7 L586.62 49.7 L587.33 49.7 L588.03 49.7 L588.73 49.7 L589.44 49.7 L590.14 49.7 L590.84 49.69 L591.55 49.68 L592.25 49.67 L592.95 49.64 L593.66 49.6 L594.36 49.55 L595.06 49.47 L595.76 49.36 L596.47 49.23 L597.17 49.07 L597.87 48.87 L598.58 48.65 L599.28 48.4 L599.98 48.12 L600.69 47.84 L601.39 47.54 L602.09 47.25 L602.8 46.97 L603.5 46.71 L604.2 46.46 L604.91 46.23 L605.61 46.02 L606.31 45.83 L607.01 45.65 L607.72 45.48 L608.42 45.32 L609.12 45.18 L609.83 45.04 L610.53 44.92 L611.23 44.81 L611.94 44.7 L612.64 44.61 L613.34 44.53 L614.05 44.46 L614.75 44.4 L615.45 44.35 L616.15 44.31 L616.86 44.29 L617.56 44.28 L618.26 44.28 L618.97 44.29 L619.67 44.32 L620.37 44.36 L621.08 44.42 L621.78 44.49 L622.48 44.57 L623.19 44.67 L623.89 44.79 L624.59 44.91 L625.29 45.06 L626 45.22 L626.7 45.39 L627.4 45.58 L628.11 45.79 L628.81 46.01 L629.51 46.25 L630.22 46.5 L630.92 46.77 L631.62 47.06 L632.33 47.36 L633.03 47.67 L633.73 48 L634.43 48.34 L635.14 48.7 L635.84 49.07 L636.54 49.46 L637.25 49.86 L637.95 50.27 L638.65 50.7 L639.36 51.14 L640.06 51.59 L640.76 52.05 L641.47 52.53 L642.17 53.02 L642.87 53.53 L643.57 54.04 L644.28 54.57 L644.98 55.11 L645.68 55.66 L646.39 56.22 L647.09 56.79 L647.79 57.37 L648.5 57.97 L649.2 58.57 L649.9 59.19 L650.61 59.81 L651.31 60.45 L652.01 61.1 L652.72 61.75 L653.42 62.41 L654.12 63.09 L654.82 63.77 L655.53 64.46 L656.23 65.16 L656.93 65.87 L657.64 66.59 L658.34 67.32 L659.04 68.05 L659.75 68.79 L660.45 69.54 L661.15 70.29 L661.86 71.06 L662.56 71.83 L663.26 72.6 L663.96 73.39 L664.67 74.18 L665.37 74.98 L666.07 75.78 L666.78 76.59 L667.48 77.4 L668.18 78.22 L668.89 79.04 L669.59 79.87 L670.29 80.71 L671 81.55 L671.7 82.39 L672.4 83.24 L673.1 84.1 L673.81 84.95 L674.51 85.82 L675.21 86.68 L675.92 87.55 L676.62 88.43 L677.32 89.31 L678.03 90.2 L678.73 91.09 L679.43 91.98 L680.14 92.88 L680.84 93.79 L681.54 94.69 L682.24 95.61 L682.95 96.53 L683.65 97.46 L684.35 98.39 L685.06 99.32 L685.76 100.26 L686.46 101.21 L687.17 102.17 L687.87 103.13 L688.57 104.09 L689.28 105.06 L689.98 106.04 L690.68 107.02 L691.38 108.01 L692.09 109.01 L692.79 110.01 L693.49 111.02 L694.2 112.04 L694.9 113.06 L695.6 114.09 L696.31 115.13 L697.01 116.17 L697.71 117.22 L698.42 118.27 L699.12 119.33 L699.82 120.4 L700.53 121.47 L701.23 122.54 L701.93 123.62 L702.63 124.71 L703.34 125.79 L704.04 126.88 L704.74 127.98 L705.45 129.08 L706.15 130.18 L706.85 131.28 L707.56 132.38 L708.26 133.49 L708.96 134.6 L709.67 135.7 L710.37 136.81 L711.07 137.92 L711.77 139.03 L712.48 140.14 L713.18 141.25 L713.88 142.36 L714.59 143.47 L715.29 144.57 L715.99 145.67 L716.7 146.77 L717.4 147.87 L718.1 148.97 L718.81 150.06 L719.51 151.15 L720.21 152.23 L720.91 153.3 L721.62 154.37 L722.32 155.44 L723.02 156.49 L723.73 157.53 L724.43 158.57 L725.13 159.59 L725.84 160.61 L726.54 161.6 L727.24 162.59 L727.95 163.56 L728.65 164.51 L729.35 165.45 L730.05 166.37 L730.76 167.28 L731.46 168.16 L732.16 169.02 L732.87 169.86 L733.57 170.68 L734.27 171.48 L734.98 172.25 L735.68 172.99 L736.38 173.71 L737.09 174.41 L737.79 175.07 L738.49 175.71 L739.19 176.32 L739.9 176.9 L740.6 177.45 L741.3 177.98 L742.01 178.48 L742.71 178.94 L743.41 179.38 L744.12 179.79 L744.82 180.16 L745.52 180.5 L746.23 180.79 L746.93 181.05 L747.63 181.26 L748.34 181.42 L749.04 181.55 L749.74 181.65 L750.44 181.71 L751.15 181.75 L751.85 181.78 L752.55 181.79 L753.26 181.8 L753.96 181.8 L754.66 181.8 L755.37 181.8 L756.07 181.8 L756.77 181.8 L757.48 181.8 L758.18 181.8 L758.88 181.8 L759.58 181.8 L760.29 181.8 L760.99 181.8 L761.69 181.8 L762.4 181.8 L763.1 181.8" fill="none" stroke="#e08444" stroke-width="1.85" stroke-linejoin="round"/>
<path d="M581 49.7 L581.3 49.7 L581.61 49.7 L581.91 49.7 L582.22 49.7 L582.52 49.7 L582.82 49.7 L583.13 49.7 L583.43 49.7 L583.74 49.7 L584.04 49.7 L584.34 49.7 L584.65 49.7 L584.95 49.7 L585.26 49.7 L585.56 49.7 L585.86 49.7 L586.17 49.7 L586.47 49.7 L586.78 49.7 L587.08 49.7 L587.38 49.7 L587.69 49.7 L587.99 49.7 L588.3 49.7 L588.6 49.7 L588.9 49.7 L589.21 49.7 L589.51 49.7 L589.82 49.7 L590.12 49.7 L590.42 49.7 L590.73 49.7 L591.03 49.7 L591.34 49.7 L591.64 49.7 L591.94 49.7 L592.25 49.7 L592.55 49.7 L592.86 49.7 L593.16 49.7 L593.46 49.7 L593.77 49.7 L594.07 49.7 L594.38 49.7 L594.68 49.7 L594.98 49.7 L595.29 49.69 L595.59 49.69 L595.9 49.69 L596.2 49.69 L596.5 49.69 L596.81 49.69 L597.11 49.69 L597.42 49.69 L597.72 49.69 L598.02 49.7 L598.33 49.7 L598.63 49.7 L598.94 49.71 L599.24 49.71 L599.54 49.72 L599.85 49.73 L600.15 49.74 L600.46 49.75 L600.76 49.76 L601.06 49.78 L601.37 49.79 L601.67 49.81 L601.98 49.83 L602.28 49.86 L602.58 49.88 L602.89 49.91 L603.19 49.93 L603.5 49.96 L603.8 50 L604.1 50.03 L604.41 50.06 L604.71 50.1 L605.02 50.14 L605.32 50.17 L605.62 50.21 L605.93 50.25 L606.23 50.3 L606.54 50.34 L606.84 50.38 L607.14 50.43 L607.45 50.48 L607.75 50.52 L608.06 50.57 L608.36 50.62 L608.66 50.67 L608.97 50.72 L609.27 50.78 L609.58 50.83 L609.88 50.89 L610.18 50.94 L610.49 51 L610.79 51.06 L611.1 51.12 L611.4 51.18 L611.7 51.24 L612.01 51.31 L612.31 51.37 L612.62 51.44 L612.92 51.5 L613.22 51.57 L613.53 51.64 L613.83 51.71 L614.14 51.78 L614.44 51.85 L614.74 51.93 L615.05 52 L615.35 52.08 L615.66 52.16 L615.96 52.24 L616.26 52.32 L616.57 52.4 L616.87 52.48 L617.18 52.57 L617.48 52.65 L617.78 52.74 L618.09 52.83 L618.39 52.92 L618.7 53.01 L619 53.1 L619.3 53.19 L619.61 53.29 L619.91 53.38 L620.22 53.48 L620.52 53.58 L620.82 53.68 L621.13 53.78 L621.43 53.88 L621.74 53.99 L622.04 54.09 L622.34 54.2 L622.65 54.31 L622.95 54.42 L623.26 54.53 L623.56 54.64 L623.86 54.75 L624.17 54.87 L624.47 54.98 L624.78 55.1 L625.08 55.22 L625.38 55.34 L625.69 55.46 L625.99 55.59 L626.3 55.71 L626.6 55.84 L626.91 55.96 L627.21 56.09 L627.51 56.22 L627.82 56.35 L628.12 56.49 L628.43 56.62 L628.73 56.76 L629.03 56.89 L629.34 57.03 L629.64 57.17 L629.95 57.31 L630.25 57.46 L630.55 57.6 L630.86 57.75 L631.16 57.89 L631.47 58.04 L631.77 58.19 L632.07 58.34 L632.38 58.5 L632.68 58.65 L632.99 58.81 L633.29 58.96 L633.59 59.12 L633.9 59.28 L634.2 59.44 L634.51 59.6 L634.81 59.77 L635.11 59.93 L635.42 60.1 L635.72 60.27 L636.03 60.44 L636.33 60.61 L636.63 60.78 L636.94 60.95 L637.24 61.13 L637.55 61.3 L637.85 61.48 L638.15 61.66 L638.46 61.84 L638.76 62.02 L639.07 62.2 L639.37 62.39 L639.67 62.57 L639.98 62.76 L640.28 62.95 L640.59 63.14 L640.89 63.33 L641.19 63.52 L641.5 63.72 L641.8 63.91 L642.11 64.11 L642.41 64.31 L642.71 64.5 L643.02 64.71 L643.32 64.91 L643.63 65.11 L643.93 65.31 L644.23 65.52 L644.54 65.73 L644.84 65.94 L645.15 66.14 L645.45 66.36 L645.75 66.57 L646.06 66.78 L646.36 67 L646.67 67.21 L646.97 67.43 L647.27 67.65 L647.58 67.87 L647.88 68.09 L648.19 68.31 L648.49 68.54 L648.79 68.76 L649.1 68.99 L649.4 69.22 L649.71 69.45 L650.01 69.68 L650.31 69.91 L650.62 70.14 L650.92 70.38 L651.23 70.61 L651.53 70.85 L651.83 71.09 L652.14 71.33 L652.44 71.57 L652.75 71.81 L653.05 72.05 L653.35 72.3 L653.66 72.54 L653.96 72.79 L654.27 73.04 L654.57 73.29 L654.87 73.54 L655.18 73.79 L655.48 74.04 L655.79 74.3 L656.09 74.55 L656.39 74.81 L656.7 75.07 L657 75.33 L657.31 75.59 L657.61 75.85 L657.91 76.12 L658.22 76.38 L658.52 76.65 L658.83 76.91 L659.13 77.18 L659.43 77.45 L659.74 77.72 L660.04 77.99 L660.35 78.27 L660.65 78.54 L660.95 78.82 L661.26 79.09 L661.56 79.37 L661.87 79.65 L662.17 79.93 L662.47 80.21 L662.78 80.5 L663.08 80.78 L663.39 81.07 L663.69 81.35 L663.99 81.64 L664.3 81.93 L664.6 82.22 L664.91 82.51 L665.21 82.8 L665.51 83.1 L665.82 83.39 L666.12 83.69 L666.43 83.99 L666.73 84.28 L667.03 84.58 L667.34 84.89 L667.64 85.19 L667.95 85.49 L668.25 85.8 L668.55 86.1 L668.86 86.41 L669.16 86.72 L669.47 87.02 L669.77 87.33 L670.07 87.65 L670.38 87.96 L670.68 88.27 L670.99 88.59 L671.29 88.9 L671.59 89.22 L671.9 89.54 L672.2 89.86 L672.51 90.18 L672.81 90.5 L673.11 90.82 L673.42 91.15 L673.72 91.47 L674.03 91.8 L674.33 92.13 L674.63 92.46 L674.94 92.79 L675.24 93.12 L675.55 93.45 L675.85 93.78 L676.15 94.11 L676.46 94.45 L676.76 94.79 L677.07 95.12 L677.37 95.46 L677.67 95.8 L677.98 96.14 L678.28 96.48 L678.59 96.82 L678.89 97.17 L679.19 97.51 L679.5 97.86 L679.8 98.2 L680.11 98.55 L680.41 98.9 L680.71 99.25 L681.02 99.6 L681.32 99.95 L681.63 100.3 L681.93 100.65 L682.23 101.01 L682.54 101.36 L682.84 101.72 L683.15 102.07 L683.45 102.43 L683.75 102.79 L684.06 103.15 L684.36 103.51 L684.67 103.87 L684.97 104.23 L685.27 104.59 L685.58 104.95 L685.88 105.32 L686.19 105.68 L686.49 106.05 L686.79 106.41 L687.1 106.78 L687.4 107.15 L687.71 107.52 L688.01 107.89 L688.31 108.26 L688.62 108.63 L688.92 109 L689.23 109.37 L689.53 109.75 L689.83 110.12 L690.14 110.5 L690.44 110.87 L690.75 111.25 L691.05 111.62 L691.35 112 L691.66 112.38 L691.96 112.76 L692.27 113.14 L692.57 113.52 L692.87 113.9 L693.18 114.28 L693.48 114.66 L693.79 115.04 L694.09 115.43 L694.39 115.81 L694.7 116.2 L695 116.58 L695.31 116.97 L695.61 117.35 L695.91 117.74 L696.22 118.13 L696.52 118.51 L696.83 118.9 L697.13 119.29 L697.43 119.68 L697.74 120.07 L698.04 120.46 L698.35 120.85 L698.65 121.24 L698.95 121.64 L699.26 122.03 L699.56 122.42 L699.87 122.81 L700.17 123.21 L700.47 123.6 L700.78 124 L701.08 124.39 L701.39 124.79 L701.69 125.18 L701.99 125.58 L702.3 125.98 L702.6 126.37 L702.91 126.77 L703.21 127.17 L703.51 127.57 L703.82 127.97 L704.12 128.37 L704.43 128.76 L704.73 129.16 L705.03 129.56 L705.34 129.96 L705.64 130.36 L705.95 130.77 L706.25 131.17 L706.55 131.57 L706.86 131.97 L707.16 132.37 L707.47 132.77 L707.77 133.18 L708.07 133.58 L708.38 133.98 L708.68 134.39 L708.99 134.79 L709.29 135.19 L709.59 135.6 L709.9 136 L710.2 136.41 L710.51 136.81 L710.81 137.22 L711.11 137.62 L711.42 138.03 L711.72 138.43 L712.03 138.84 L712.33 139.24 L712.63 139.65 L712.94 140.05 L713.24 140.46 L713.55 140.86 L713.85 141.27 L714.15 141.68 L714.46 142.08 L714.76 142.49 L715.07 142.9 L715.37 143.3 L715.67 143.71 L715.98 144.12 L716.28 144.52 L716.59 144.93 L716.89 145.34 L717.19 145.74 L717.5 146.15 L717.8 146.55 L718.11 146.96 L718.41 147.37 L718.72 147.77 L719.02 148.18 L719.32 148.58 L719.63 148.99 L719.93 149.4 L720.24 149.8 L720.54 150.2 L720.84 150.61 L721.15 151.01 L721.45 151.42 L721.76 151.82 L722.06 152.22 L722.36 152.62 L722.67 153.02 L722.97 153.43 L723.28 153.83 L723.58 154.22 L723.88 154.62 L724.19 155.02 L724.49 155.42 L724.8 155.81 L725.1 156.21 L725.4 156.6 L725.71 156.99 L726.01 157.38 L726.32 157.77 L726.62 158.16 L726.92 158.55 L727.23 158.94 L727.53 159.32 L727.84 159.71 L728.14 160.09 L728.44 160.47 L728.75 160.85 L729.05 161.22 L729.36 161.6 L729.66 161.97 L729.96 162.35 L730.27 162.72 L730.57 163.09 L730.88 163.45 L731.18 163.82 L731.48 164.18 L731.79 164.54 L732.09 164.9 L732.4 165.26 L732.7 165.61 L733 165.96 L733.31 166.31 L733.61 166.66 L733.92 167 L734.22 167.35 L734.52 167.69 L734.83 168.02 L735.13 168.36 L735.44 168.69 L735.74 169.02 L736.04 169.35 L736.35 169.67 L736.65 169.99 L736.96 170.31 L737.26 170.63 L737.56 170.94 L737.87 171.25 L738.17 171.56 L738.48 171.86 L738.78 172.16 L739.08 172.46 L739.39 172.75 L739.69 173.05 L740 173.33 L740.3 173.62 L740.6 173.9 L740.91 174.18 L741.21 174.46 L741.52 174.74 L741.82 175.01 L742.12 175.28 L742.43 175.55 L742.73 175.81 L743.04 176.08 L743.34 176.34 L743.64 176.6 L743.95 176.86 L744.25 177.11 L744.56 177.37 L744.86 177.62 L745.16 177.87 L745.47 178.11 L745.77 178.35 L746.08 178.59 L746.38 178.82 L746.68 179.05 L746.99 179.26 L747.29 179.48 L747.6 179.68 L747.9 179.87 L748.2 180.06 L748.51 180.23 L748.81 180.4 L749.12 180.55 L749.42 180.69 L749.72 180.83 L750.03 180.95 L750.33 181.06 L750.64 181.16 L750.94 181.25 L751.24 181.33 L751.55 181.4 L751.85 181.46 L752.16 181.52 L752.46 181.57 L752.76 181.61 L753.07 181.64 L753.37 181.67 L753.68 181.7 L753.98 181.72 L754.28 181.74 L754.59 181.75 L754.89 181.76 L755.2 181.77 L755.5 181.78 L755.8 181.78 L756.11 181.79 L756.41 181.79 L756.72 181.79 L757.02 181.8 L757.32 181.8 L757.63 181.8 L757.93 181.8 L758.24 181.8 L758.54 181.8 L758.84 181.8 L759.15 181.8 L759.45 181.8 L759.76 181.8 L760.06 181.8 L760.36 181.8 L760.67 181.8 L760.97 181.8 L761.28 181.8 L761.58 181.8 L761.88 181.8 L762.19 181.8 L762.49 181.8 L762.8 181.8 L763.1 181.8" fill="none" stroke="#0c9655" stroke-width="2" stroke-dasharray="6.3 9.4 12.57 9.77 5.92 1.4 6.8 9.39 6.7 3.45 6.32 10.42 6.05 8.09 6.44 9.36 6.82 9.82 8.07 10.32 6.12 9.32 11.68 10.22 6.08 9.57 10.31 10.76 6.3 1000"/>
<text x="587.92" y="168" font-size="14.3" xml:space="preserve">Distr. par.</text>
<text transform="translate(662.7 168) scale(1.06 1)" text-anchor="end" font-size="14.3">&#945;</text>
<path d="M654.8 158.85 c0.92 -2.09 2.05 -2.18 3.3 -0.85 s2.38 2.09 3.3 -0.85" fill="none" stroke="#000" stroke-width="1.15" stroke-linecap="butt"/>
<path d="M763 0h-180v1147q-65 -62 -170.5 -124t-189.5 -93v174q151 71 264 172t160 196h116v-1472z" transform="translate(662.1 170.7) scale(0.00558 -0.00566)"/>
<text x="587.92" y="182.3" font-size="14.3" xml:space="preserve">Distr. par.</text>
<text transform="translate(662.7 182.3) scale(1.06 1)" text-anchor="end" font-size="14.3">&#945;</text>
<path d="M654.8 173.16 c0.92 -2.09 2.05 -2.18 3.3 -0.85 s2.38 2.09 3.3 -0.85" fill="none" stroke="#000" stroke-width="1.15" stroke-linecap="butt"/>
<text transform="translate(662.2 185.4) scale(1 1.03)" font-size="11.6" xml:space="preserve">2</text>
<text x="610" y="196.9" font-size="14.3" xml:space="preserve">Control</text>
<text transform="translate(670.2 196.9) scale(1.18 1)" text-anchor="end" font-size="14.3">&#945;</text>
<line x1="677.9" y1="162.9" x2="705.1" y2="162.9" stroke="#f80018" stroke-width="2"/>
<line x1="677.9" y1="177.2" x2="705.1" y2="177.2" stroke="#e08444" stroke-width="1.85"/>
<path d="M677.9 191.6h6.8M694.6 191.6h6.6" stroke="#0c9655" stroke-width="2"/>
<text x="726.66" y="47.6" font-size="14.3" xml:space="preserve">(c)</text>
<rect x="580.65" y="14.4" width="182.45" height="185.05" fill="none" stroke="#000" stroke-width="1.4"/>
<text x="626.18" y="234" font-size="14.3" xml:space="preserve">Protocol time t</text>
<text transform="translate(541.7 107) rotate(-90)" text-anchor="middle" font-size="14.3">Tumbling rate</text>
<rect x="39.1" y="250.2" width="134.4" height="79.95" fill="none" stroke="#000" stroke-width="1.4"/>
<clipPath id="cp0"><rect x="39.1" y="250.2" width="134.4" height="79.95"/></clipPath>
<g clip-path="url(#cp0)">
<path d="M45.23 330.15H46.71V328.33H45.23ZM46.76 330.15H48.24V326.84H46.76ZM48.29 330.15H49.77V325.88H48.29ZM49.82 330.15H51.29V325.13H49.82ZM51.34 330.15H52.82V324.49H51.34ZM52.87 330.15H54.35V323.94H52.87ZM54.4 330.15H55.88V323.44H54.4ZM55.93 330.15H57.4V322.99H55.93ZM57.45 330.15H58.93V322.58H57.45ZM58.98 330.15H60.46V322.21H58.98ZM60.51 330.15H61.98V321.86H60.51ZM62.03 330.15H63.51V321.54H62.03ZM63.56 330.15H65.04V321.23H63.56ZM65.09 330.15H66.57V320.95H65.09ZM66.62 330.15H68.09V320.69H66.62ZM68.14 330.15H69.62V320.44H68.14ZM69.67 330.15H71.15V320.21H69.67ZM71.2 330.15H72.68V320H71.2ZM72.73 330.15H74.2V319.8H72.73ZM74.25 330.15H75.73V319.61H74.25ZM75.78 330.15H77.26V319.43H75.78ZM77.31 330.15H78.78V319.26H77.31ZM78.83 330.15H80.31V319.11H78.83ZM80.36 330.15H81.84V318.96H80.36ZM81.89 330.15H83.37V318.83H81.89ZM83.42 330.15H84.89V318.71H83.42ZM84.94 330.15H86.42V318.59H84.94ZM86.47 330.15H87.95V318.49H86.47ZM88 330.15H89.48V318.39H88ZM89.53 330.15H91V318.3H89.53ZM91.05 330.15H92.53V318.22H91.05ZM92.58 330.15H94.06V318.15H92.58ZM94.11 330.15H95.58V318.09H94.11ZM95.63 330.15H97.11V318.03H95.63ZM97.16 330.15H98.64V317.99H97.16ZM98.69 330.15H100.17V317.95H98.69ZM100.22 330.15H101.69V317.92H100.22ZM101.74 330.15H103.22V317.9H101.74ZM103.27 330.15H104.75V317.88H103.27ZM104.8 330.15H106.28V317.87H104.8ZM106.33 330.15H107.8V317.87H106.33ZM107.85 330.15H109.33V317.88H107.85ZM109.38 330.15H110.86V317.9H109.38ZM110.91 330.15H112.38V317.92H110.91ZM112.43 330.15H113.91V317.95H112.43ZM113.96 330.15H115.44V317.99H113.96ZM115.49 330.15H116.97V318.03H115.49ZM117.02 330.15H118.49V318.09H117.02ZM118.54 330.15H120.02V318.15H118.54ZM120.07 330.15H121.55V318.22H120.07ZM121.6 330.15H123.08V318.3H121.6ZM123.13 330.15H124.6V318.39H123.13ZM124.65 330.15H126.13V318.49H124.65ZM126.18 330.15H127.66V318.59H126.18ZM127.71 330.15H129.18V318.71H127.71ZM129.23 330.15H130.71V318.83H129.23ZM130.76 330.15H132.24V318.96H130.76ZM132.29 330.15H133.77V319.11H132.29ZM133.82 330.15H135.29V319.26H133.82ZM135.34 330.15H136.82V319.43H135.34ZM136.87 330.15H138.35V319.61H136.87ZM138.4 330.15H139.88V319.8H138.4ZM139.93 330.15H141.4V320H139.93ZM141.45 330.15H142.93V320.21H141.45ZM142.98 330.15H144.46V320.44H142.98ZM144.51 330.15H145.98V320.69H144.51ZM146.03 330.15H147.51V320.95H146.03ZM147.56 330.15H149.04V321.23H147.56ZM149.09 330.15H150.57V321.54H149.09ZM150.62 330.15H152.09V321.86H150.62ZM152.14 330.15H153.62V322.21H152.14ZM153.67 330.15H155.15V322.58H153.67ZM155.2 330.15H156.68V322.99H155.2ZM156.73 330.15H158.2V323.44H156.73ZM158.25 330.15H159.73V323.94H158.25ZM159.78 330.15H161.26V324.49H159.78ZM161.31 330.15H162.78V325.13H161.31ZM162.83 330.15H164.31V325.88H162.83ZM164.36 330.15H165.84V326.84H164.36ZM165.89 330.15H167.37V328.33H165.89Z" fill="#2664bb"/>
<path d="M39.1 330.15H45.08M167.52 330.15H173.5" fill="none" stroke="#f80018" stroke-width="1.1" opacity="0.25"/>
<path d="M45.08 330.15 L45.23 329.82 L45.38 329.2 L45.53 328.85 L45.68 328.58 L45.83 328.34 L45.98 328.14 L46.13 327.95 L46.28 327.78 L46.43 327.62 L46.57 327.47 L46.72 327.33 L46.87 327.2 L47.02 327.07 L47.17 326.95 L47.32 326.83 L47.47 326.72 L47.62 326.61 L47.77 326.5 L47.92 326.4 L48.07 326.3 L48.22 326.2 L48.37 326.11 L48.52 326.02 L48.67 325.93 L48.82 325.84 L48.97 325.76 L49.12 325.67 L49.27 325.59 L49.42 325.51 L49.56 325.43 L49.71 325.35 L49.86 325.28 L50.01 325.2 L50.16 325.13 L50.31 325.06 L50.46 324.99 L50.61 324.92 L50.76 324.85 L50.91 324.78 L51.06 324.72 L51.21 324.65 L51.36 324.59 L51.51 324.52 L51.66 324.46 L51.81 324.4 L51.96 324.34 L52.11 324.28 L52.26 324.22 L52.41 324.16 L52.55 324.1 L52.7 324.04 L52.85 323.99 L53 323.93 L53.15 323.88 L53.3 323.82 L53.45 323.77 L53.6 323.71 L53.75 323.66 L53.9 323.61 L54.05 323.56 L54.2 323.51 L54.35 323.45 L54.5 323.4 L54.65 323.36 L54.8 323.31 L54.95 323.26 L55.1 323.21 L55.25 323.16 L55.4 323.11 L55.54 323.07 L55.69 323.02 L55.84 322.98 L55.99 322.93 L56.14 322.89 L56.29 322.84 L56.44 322.8 L56.59 322.75 L56.74 322.71 L56.89 322.67 L57.04 322.62 L57.19 322.58 L57.34 322.54 L57.49 322.5 L57.64 322.46 L57.79 322.42 L57.94 322.38 L58.09 322.34 L58.24 322.3 L58.39 322.26 L58.53 322.22 L58.68 322.18 L58.83 322.14 L58.98 322.1 L59.13 322.06 L59.28 322.03 L59.43 321.99 L59.58 321.95 L59.73 321.91 L59.88 321.88 L60.03 321.84 L60.18 321.81 L60.33 321.77 L60.48 321.73 L60.63 321.7 L60.78 321.66 L60.93 321.63 L61.08 321.6 L61.23 321.56 L61.38 321.53 L61.52 321.49 L61.67 321.46 L61.82 321.43 L61.97 321.39 L62.12 321.36 L62.27 321.33 L62.42 321.3 L62.57 321.26 L62.72 321.23 L62.87 321.2 L63.02 321.17 L63.17 321.14 L63.32 321.11 L63.47 321.08 L63.62 321.05 L63.77 321.02 L63.92 320.99 L64.07 320.96 L64.22 320.93 L64.37 320.9 L64.51 320.87 L64.66 320.84 L64.81 320.81 L64.96 320.78 L65.11 320.75 L65.26 320.72 L65.41 320.7 L65.56 320.67 L65.71 320.64 L65.86 320.61 L66.01 320.59 L66.16 320.56 L66.31 320.53 L66.46 320.5 L66.61 320.48 L66.76 320.45 L66.91 320.42 L67.06 320.4 L67.21 320.37 L67.36 320.35 L67.5 320.32 L67.65 320.3 L67.8 320.27 L67.95 320.24 L68.1 320.22 L68.25 320.19 L68.4 320.17 L68.55 320.15 L68.7 320.12 L68.85 320.1 L69 320.07 L69.15 320.05 L69.3 320.02 L69.45 320 L69.6 319.98 L69.75 319.95 L69.9 319.93 L70.05 319.91 L70.2 319.89 L70.35 319.86 L70.49 319.84 L70.64 319.82 L70.79 319.8 L70.94 319.77 L71.09 319.75 L71.24 319.73 L71.39 319.71 L71.54 319.69 L71.69 319.66 L71.84 319.64 L71.99 319.62 L72.14 319.6 L72.29 319.58 L72.44 319.56 L72.59 319.54 L72.74 319.52 L72.89 319.5 L73.04 319.48 L73.19 319.46 L73.34 319.44 L73.48 319.42 L73.63 319.4 L73.78 319.38 L73.93 319.36 L74.08 319.34 L74.23 319.32 L74.38 319.3 L74.53 319.28 L74.68 319.26 L74.83 319.24 L74.98 319.23 L75.13 319.21 L75.28 319.19 L75.43 319.17 L75.58 319.15 L75.73 319.13 L75.88 319.12 L76.03 319.1 L76.18 319.08 L76.33 319.06 L76.47 319.05 L76.62 319.03 L76.77 319.01 L76.92 318.99 L77.07 318.98 L77.22 318.96 L77.37 318.94 L77.52 318.93 L77.67 318.91 L77.82 318.89 L77.97 318.88 L78.12 318.86 L78.27 318.84 L78.42 318.83 L78.57 318.81 L78.72 318.8 L78.87 318.78 L79.02 318.77 L79.17 318.75 L79.32 318.73 L79.46 318.72 L79.61 318.7 L79.76 318.69 L79.91 318.67 L80.06 318.66 L80.21 318.64 L80.36 318.63 L80.51 318.61 L80.66 318.6 L80.81 318.59 L80.96 318.57 L81.11 318.56 L81.26 318.54 L81.41 318.53 L81.56 318.52 L81.71 318.5 L81.86 318.49 L82.01 318.47 L82.16 318.46 L82.31 318.45 L82.45 318.43 L82.6 318.42 L82.75 318.41 L82.9 318.4 L83.05 318.38 L83.2 318.37 L83.35 318.36 L83.5 318.34 L83.65 318.33 L83.8 318.32 L83.95 318.31 L84.1 318.3 L84.25 318.28 L84.4 318.27 L84.55 318.26 L84.7 318.25 L84.85 318.24 L85 318.22 L85.15 318.21 L85.3 318.2 L85.44 318.19 L85.59 318.18 L85.74 318.17 L85.89 318.16 L86.04 318.15 L86.19 318.13 L86.34 318.12 L86.49 318.11 L86.64 318.1 L86.79 318.09 L86.94 318.08 L87.09 318.07 L87.24 318.06 L87.39 318.05 L87.54 318.04 L87.69 318.03 L87.84 318.02 L87.99 318.01 L88.14 318 L88.29 317.99 L88.43 317.98 L88.58 317.97 L88.73 317.96 L88.88 317.95 L89.03 317.94 L89.18 317.94 L89.33 317.93 L89.48 317.92 L89.63 317.91 L89.78 317.9 L89.93 317.89 L90.08 317.88 L90.23 317.87 L90.38 317.87 L90.53 317.86 L90.68 317.85 L90.83 317.84 L90.98 317.83 L91.13 317.82 L91.28 317.82 L91.42 317.81 L91.57 317.8 L91.72 317.79 L91.87 317.79 L92.02 317.78 L92.17 317.77 L92.32 317.76 L92.47 317.76 L92.62 317.75 L92.77 317.74 L92.92 317.73 L93.07 317.73 L93.22 317.72 L93.37 317.71 L93.52 317.71 L93.67 317.7 L93.82 317.69 L93.97 317.69 L94.12 317.68 L94.27 317.67 L94.41 317.67 L94.56 317.66 L94.71 317.66 L94.86 317.65 L95.01 317.64 L95.16 317.64 L95.31 317.63 L95.46 317.63 L95.61 317.62 L95.76 317.62 L95.91 317.61 L96.06 317.61 L96.21 317.6 L96.36 317.6 L96.51 317.59 L96.66 317.59 L96.81 317.58 L96.96 317.58 L97.11 317.57 L97.26 317.57 L97.4 317.56 L97.55 317.56 L97.7 317.55 L97.85 317.55 L98 317.54 L98.15 317.54 L98.3 317.54 L98.45 317.53 L98.6 317.53 L98.75 317.52 L98.9 317.52 L99.05 317.52 L99.2 317.51 L99.35 317.51 L99.5 317.5 L99.65 317.5 L99.8 317.5 L99.95 317.49 L100.1 317.49 L100.25 317.49 L100.39 317.49 L100.54 317.48 L100.69 317.48 L100.84 317.48 L100.99 317.47 L101.14 317.47 L101.29 317.47 L101.44 317.47 L101.59 317.46 L101.74 317.46 L101.89 317.46 L102.04 317.46 L102.19 317.45 L102.34 317.45 L102.49 317.45 L102.64 317.45 L102.79 317.45 L102.94 317.44 L103.09 317.44 L103.24 317.44 L103.38 317.44 L103.53 317.44 L103.68 317.44 L103.83 317.44 L103.98 317.43 L104.13 317.43 L104.28 317.43 L104.43 317.43 L104.58 317.43 L104.73 317.43 L104.88 317.43 L105.03 317.43 L105.18 317.43 L105.33 317.43 L105.48 317.43 L105.63 317.43 L105.78 317.43 L105.93 317.43 L106.08 317.43 L106.23 317.43 L106.37 317.43 L106.52 317.43 L106.67 317.43 L106.82 317.43 L106.97 317.43 L107.12 317.43 L107.27 317.43 L107.42 317.43 L107.57 317.43 L107.72 317.43 L107.87 317.43 L108.02 317.43 L108.17 317.43 L108.32 317.43 L108.47 317.43 L108.62 317.43 L108.77 317.44 L108.92 317.44 L109.07 317.44 L109.22 317.44 L109.36 317.44 L109.51 317.44 L109.66 317.44 L109.81 317.45 L109.96 317.45 L110.11 317.45 L110.26 317.45 L110.41 317.45 L110.56 317.46 L110.71 317.46 L110.86 317.46 L111.01 317.46 L111.16 317.47 L111.31 317.47 L111.46 317.47 L111.61 317.47 L111.76 317.48 L111.91 317.48 L112.06 317.48 L112.21 317.49 L112.35 317.49 L112.5 317.49 L112.65 317.49 L112.8 317.5 L112.95 317.5 L113.1 317.5 L113.25 317.51 L113.4 317.51 L113.55 317.52 L113.7 317.52 L113.85 317.52 L114 317.53 L114.15 317.53 L114.3 317.54 L114.45 317.54 L114.6 317.54 L114.75 317.55 L114.9 317.55 L115.05 317.56 L115.2 317.56 L115.34 317.57 L115.49 317.57 L115.64 317.58 L115.79 317.58 L115.94 317.59 L116.09 317.59 L116.24 317.6 L116.39 317.6 L116.54 317.61 L116.69 317.61 L116.84 317.62 L116.99 317.62 L117.14 317.63 L117.29 317.63 L117.44 317.64 L117.59 317.64 L117.74 317.65 L117.89 317.66 L118.04 317.66 L118.19 317.67 L118.33 317.67 L118.48 317.68 L118.63 317.69 L118.78 317.69 L118.93 317.7 L119.08 317.71 L119.23 317.71 L119.38 317.72 L119.53 317.73 L119.68 317.73 L119.83 317.74 L119.98 317.75 L120.13 317.76 L120.28 317.76 L120.43 317.77 L120.58 317.78 L120.73 317.79 L120.88 317.79 L121.03 317.8 L121.18 317.81 L121.32 317.82 L121.47 317.82 L121.62 317.83 L121.77 317.84 L121.92 317.85 L122.07 317.86 L122.22 317.87 L122.37 317.87 L122.52 317.88 L122.67 317.89 L122.82 317.9 L122.97 317.91 L123.12 317.92 L123.27 317.93 L123.42 317.94 L123.57 317.94 L123.72 317.95 L123.87 317.96 L124.02 317.97 L124.17 317.98 L124.31 317.99 L124.46 318 L124.61 318.01 L124.76 318.02 L124.91 318.03 L125.06 318.04 L125.21 318.05 L125.36 318.06 L125.51 318.07 L125.66 318.08 L125.81 318.09 L125.96 318.1 L126.11 318.11 L126.26 318.12 L126.41 318.13 L126.56 318.15 L126.71 318.16 L126.86 318.17 L127.01 318.18 L127.16 318.19 L127.3 318.2 L127.45 318.21 L127.6 318.22 L127.75 318.24 L127.9 318.25 L128.05 318.26 L128.2 318.27 L128.35 318.28 L128.5 318.3 L128.65 318.31 L128.8 318.32 L128.95 318.33 L129.1 318.34 L129.25 318.36 L129.4 318.37 L129.55 318.38 L129.7 318.4 L129.85 318.41 L130 318.42 L130.15 318.43 L130.29 318.45 L130.44 318.46 L130.59 318.47 L130.74 318.49 L130.89 318.5 L131.04 318.52 L131.19 318.53 L131.34 318.54 L131.49 318.56 L131.64 318.57 L131.79 318.59 L131.94 318.6 L132.09 318.61 L132.24 318.63 L132.39 318.64 L132.54 318.66 L132.69 318.67 L132.84 318.69 L132.99 318.7 L133.14 318.72 L133.28 318.73 L133.43 318.75 L133.58 318.77 L133.73 318.78 L133.88 318.8 L134.03 318.81 L134.18 318.83 L134.33 318.84 L134.48 318.86 L134.63 318.88 L134.78 318.89 L134.93 318.91 L135.08 318.93 L135.23 318.94 L135.38 318.96 L135.53 318.98 L135.68 318.99 L135.83 319.01 L135.98 319.03 L136.13 319.05 L136.27 319.06 L136.42 319.08 L136.57 319.1 L136.72 319.12 L136.87 319.13 L137.02 319.15 L137.17 319.17 L137.32 319.19 L137.47 319.21 L137.62 319.23 L137.77 319.24 L137.92 319.26 L138.07 319.28 L138.22 319.3 L138.37 319.32 L138.52 319.34 L138.67 319.36 L138.82 319.38 L138.97 319.4 L139.12 319.42 L139.26 319.44 L139.41 319.46 L139.56 319.48 L139.71 319.5 L139.86 319.52 L140.01 319.54 L140.16 319.56 L140.31 319.58 L140.46 319.6 L140.61 319.62 L140.76 319.64 L140.91 319.66 L141.06 319.69 L141.21 319.71 L141.36 319.73 L141.51 319.75 L141.66 319.77 L141.81 319.8 L141.96 319.82 L142.11 319.84 L142.25 319.86 L142.4 319.89 L142.55 319.91 L142.7 319.93 L142.85 319.95 L143 319.98 L143.15 320 L143.3 320.02 L143.45 320.05 L143.6 320.07 L143.75 320.1 L143.9 320.12 L144.05 320.15 L144.2 320.17 L144.35 320.19 L144.5 320.22 L144.65 320.24 L144.8 320.27 L144.95 320.3 L145.1 320.32 L145.24 320.35 L145.39 320.37 L145.54 320.4 L145.69 320.42 L145.84 320.45 L145.99 320.48 L146.14 320.5 L146.29 320.53 L146.44 320.56 L146.59 320.59 L146.74 320.61 L146.89 320.64 L147.04 320.67 L147.19 320.7 L147.34 320.72 L147.49 320.75 L147.64 320.78 L147.79 320.81 L147.94 320.84 L148.09 320.87 L148.23 320.9 L148.38 320.93 L148.53 320.96 L148.68 320.99 L148.83 321.02 L148.98 321.05 L149.13 321.08 L149.28 321.11 L149.43 321.14 L149.58 321.17 L149.73 321.2 L149.88 321.23 L150.03 321.26 L150.18 321.3 L150.33 321.33 L150.48 321.36 L150.63 321.39 L150.78 321.43 L150.93 321.46 L151.08 321.49 L151.22 321.53 L151.37 321.56 L151.52 321.6 L151.67 321.63 L151.82 321.66 L151.97 321.7 L152.12 321.73 L152.27 321.77 L152.42 321.81 L152.57 321.84 L152.72 321.88 L152.87 321.91 L153.02 321.95 L153.17 321.99 L153.32 322.03 L153.47 322.06 L153.62 322.1 L153.77 322.14 L153.92 322.18 L154.07 322.22 L154.21 322.26 L154.36 322.3 L154.51 322.34 L154.66 322.38 L154.81 322.42 L154.96 322.46 L155.11 322.5 L155.26 322.54 L155.41 322.58 L155.56 322.62 L155.71 322.67 L155.86 322.71 L156.01 322.75 L156.16 322.8 L156.31 322.84 L156.46 322.89 L156.61 322.93 L156.76 322.98 L156.91 323.02 L157.06 323.07 L157.2 323.11 L157.35 323.16 L157.5 323.21 L157.65 323.26 L157.8 323.31 L157.95 323.36 L158.1 323.4 L158.25 323.45 L158.4 323.51 L158.55 323.56 L158.7 323.61 L158.85 323.66 L159 323.71 L159.15 323.77 L159.3 323.82 L159.45 323.88 L159.6 323.93 L159.75 323.99 L159.9 324.04 L160.05 324.1 L160.19 324.16 L160.34 324.22 L160.49 324.28 L160.64 324.34 L160.79 324.4 L160.94 324.46 L161.09 324.52 L161.24 324.59 L161.39 324.65 L161.54 324.72 L161.69 324.78 L161.84 324.85 L161.99 324.92 L162.14 324.99 L162.29 325.06 L162.44 325.13 L162.59 325.2 L162.74 325.28 L162.89 325.35 L163.04 325.43 L163.18 325.51 L163.33 325.59 L163.48 325.67 L163.63 325.76 L163.78 325.84 L163.93 325.93 L164.08 326.02 L164.23 326.11 L164.38 326.2 L164.53 326.3 L164.68 326.4 L164.83 326.5 L164.98 326.61 L165.13 326.72 L165.28 326.83 L165.43 326.95 L165.58 327.07 L165.73 327.2 L165.88 327.33 L166.03 327.47 L166.17 327.62 L166.32 327.78 L166.47 327.95 L166.62 328.14 L166.77 328.34 L166.92 328.58 L167.07 328.85 L167.22 329.2 L167.37 329.82 L167.52 330.15" fill="none" stroke="#f80018" stroke-width="1.1" stroke-linejoin="miter" stroke-miterlimit="10"/>
</g>
<text transform="translate(38.85 349.4) scale(1 1.03)" font-size="14.3" xml:space="preserve">-</text>
<path d="M763 0h-180v1147q-65 -62 -170.5 -124t-189.5 -93v174q151 71 264 172t160 196h116v-1472z" transform="translate(43.71 349.4) scale(0.00688 -0.00698)"/>
<text transform="translate(63.23 349.4) scale(1 1.03)" font-size="14.3" xml:space="preserve">-0.5</text>
<text transform="translate(104.32 349.4) scale(1 1.03)" font-size="14.3" xml:space="preserve">0</text>
<text transform="translate(128.51 349.4) scale(1 1.03)" font-size="14.3" xml:space="preserve">0.5</text>
<path d="M763 0h-180v1147q-65 -62 -170.5 -124t-189.5 -93v174q151 71 264 172t160 196h116v-1472z" transform="translate(164.11 349.4) scale(0.00688 -0.00698)"/>
<path d="M39.1 330.15v-2.5M45.21 330.15v-5M51.32 330.15v-2.5M57.43 330.15v-2.5M63.54 330.15v-2.5M69.65 330.15v-2.5M75.75 330.15v-5M81.86 330.15v-2.5M87.97 330.15v-2.5M94.08 330.15v-2.5M100.19 330.15v-2.5M106.3 330.15v-5M112.41 330.15v-2.5M118.52 330.15v-2.5M124.63 330.15v-2.5M130.74 330.15v-2.5M136.85 330.15v-5M142.95 330.15v-2.5M149.06 330.15v-2.5M155.17 330.15v-2.5M161.28 330.15v-2.5M167.39 330.15v-5M173.5 330.15v-2.5" stroke="#000" stroke-width="0.75" fill="none"/>
<text transform="translate(26.55 334.9) scale(1 1.03)" font-size="14.3" xml:space="preserve">0</text>
<path d="M763 0h-180v1147q-65 -62 -170.5 -124t-189.5 -93v174q151 71 264 172t160 196h116v-1472z" transform="translate(26.65 314.91) scale(0.00688 -0.00698)"/>
<text transform="translate(26.55 294.92) scale(1 1.03)" font-size="14.3" xml:space="preserve">2</text>
<text transform="translate(26.55 274.94) scale(1 1.03)" font-size="14.3" xml:space="preserve">3</text>
<text transform="translate(26.55 254.95) scale(1 1.03)" font-size="14.3" xml:space="preserve">4</text>
<path d="M39.1 330.15h5M39.1 326.15h2.5M39.1 322.15h2.5M39.1 318.16h2.5M39.1 314.16h2.5M39.1 310.16h5M39.1 306.16h2.5M39.1 302.17h2.5M39.1 298.17h2.5M39.1 294.17h2.5M39.1 290.17h5M39.1 286.18h2.5M39.1 282.18h2.5M39.1 278.18h2.5M39.1 274.19h2.5M39.1 270.19h5M39.1 266.19h2.5M39.1 262.19h2.5M39.1 258.19h2.5M39.1 254.2h2.5M39.1 250.2h5" stroke="#000" stroke-width="1.2" fill="none"/>
<text x="92.69" y="267.9" font-size="14.3" xml:space="preserve">t = 0</text>
<text x="151.46" y="267.3" font-size="14.3" xml:space="preserve">(d)</text>
<text x="67.3" y="302.2" font-size="14.3" xml:space="preserve">&#961;(x)</text>
<rect x="190.43" y="250.2" width="134.4" height="79.95" fill="none" stroke="#000" stroke-width="1.4"/>
<clipPath id="cp1"><rect x="190.43" y="250.2" width="134.4" height="79.95"/></clipPath>
<g clip-path="url(#cp1)">
<path d="M198.09 330.15H199.57V330.1H198.09ZM199.62 330.15H201.1V326.37H199.62ZM201.15 330.15H202.62V324.62H201.15ZM202.67 330.15H204.15V323.64H202.67ZM204.2 330.15H205.68V322.92H204.2ZM205.73 330.15H207.21V322.33H205.73ZM207.26 330.15H208.73V321.84H207.26ZM208.78 330.15H210.26V321.41H208.78ZM210.31 330.15H211.79V321.03H210.31ZM211.84 330.15H213.31V320.7H211.84ZM213.36 330.15H214.84V320.39H213.36ZM214.89 330.15H216.37V320.12H214.89ZM216.42 330.15H217.9V319.86H216.42ZM217.95 330.15H219.42V319.63H217.95ZM219.47 330.15H220.95V319.42H219.47ZM221 330.15H222.48V319.22H221ZM222.53 330.15H224.01V319.04H222.53ZM224.06 330.15H225.53V318.87H224.06ZM225.58 330.15H227.06V318.71H225.58ZM227.11 330.15H228.59V318.57H227.11ZM228.64 330.15H230.11V318.43H228.64ZM230.16 330.15H231.64V318.31H230.16ZM231.69 330.15H233.17V318.19H231.69ZM233.22 330.15H234.7V318.09H233.22ZM234.75 330.15H236.22V317.99H234.75ZM236.27 330.15H237.75V317.9H236.27ZM237.8 330.15H239.28V317.82H237.8ZM239.33 330.15H240.81V317.74H239.33ZM240.86 330.15H242.33V317.67H240.86ZM242.38 330.15H243.86V317.61H242.38ZM243.91 330.15H245.39V317.56H243.91ZM245.44 330.15H246.91V317.51H245.44ZM246.96 330.15H248.44V317.47H246.96ZM248.49 330.15H249.97V317.43H248.49ZM250.02 330.15H251.5V317.4H250.02ZM251.55 330.15H253.02V317.38H251.55ZM253.07 330.15H254.55V317.36H253.07ZM254.6 330.15H256.08V317.35H254.6ZM256.13 330.15H257.61V317.34H256.13ZM257.66 330.15H259.13V317.34H257.66ZM259.18 330.15H260.66V317.35H259.18ZM260.71 330.15H262.19V317.36H260.71ZM262.24 330.15H263.71V317.38H262.24ZM263.76 330.15H265.24V317.4H263.76ZM265.29 330.15H266.77V317.43H265.29ZM266.82 330.15H268.3V317.47H266.82ZM268.35 330.15H269.82V317.51H268.35ZM269.87 330.15H271.35V317.56H269.87ZM271.4 330.15H272.88V317.61H271.4ZM272.93 330.15H274.41V317.67H272.93ZM274.46 330.15H275.93V317.74H274.46ZM275.98 330.15H277.46V317.82H275.98ZM277.51 330.15H278.99V317.9H277.51ZM279.04 330.15H280.51V317.99H279.04ZM280.56 330.15H282.04V318.09H280.56ZM282.09 330.15H283.57V318.19H282.09ZM283.62 330.15H285.1V318.31H283.62ZM285.15 330.15H286.62V318.43H285.15ZM286.67 330.15H288.15V318.57H286.67ZM288.2 330.15H289.68V318.71H288.2ZM289.73 330.15H291.21V318.87H289.73ZM291.26 330.15H292.73V319.04H291.26ZM292.78 330.15H294.26V319.22H292.78ZM294.31 330.15H295.79V319.42H294.31ZM295.84 330.15H297.31V319.63H295.84ZM297.36 330.15H298.84V319.86H297.36ZM298.89 330.15H300.37V320.12H298.89ZM300.42 330.15H301.9V320.39H300.42ZM301.95 330.15H303.42V320.7H301.95ZM303.47 330.15H304.95V321.03H303.47ZM305 330.15H306.48V321.41H305ZM306.53 330.15H308.01V321.84H306.53ZM308.06 330.15H309.53V322.33H308.06ZM309.58 330.15H311.06V322.92H309.58ZM311.11 330.15H312.59V323.64H311.11ZM312.64 330.15H314.11V324.62H312.64ZM314.16 330.15H315.64V326.37H314.16ZM315.69 330.15H317.17V330.1H315.69Z" fill="#2664bb"/>
<path d="M190.43 330.15H199.4M315.86 330.15H324.83" fill="none" stroke="#f80018" stroke-width="1.1" opacity="0.25"/>
<path d="M199.4 330.15 L199.55 329.01 L199.7 327.74 L199.85 327.17 L200 326.76 L200.15 326.44 L200.3 326.16 L200.45 325.92 L200.6 325.71 L200.75 325.51 L200.89 325.33 L201.04 325.17 L201.19 325.01 L201.34 324.87 L201.49 324.73 L201.64 324.6 L201.79 324.47 L201.94 324.35 L202.09 324.24 L202.24 324.13 L202.39 324.03 L202.54 323.93 L202.69 323.83 L202.84 323.73 L202.99 323.64 L203.14 323.55 L203.29 323.47 L203.44 323.38 L203.59 323.3 L203.74 323.22 L203.88 323.15 L204.03 323.07 L204.18 323 L204.33 322.92 L204.48 322.85 L204.63 322.79 L204.78 322.72 L204.93 322.65 L205.08 322.59 L205.23 322.52 L205.38 322.46 L205.53 322.4 L205.68 322.34 L205.83 322.28 L205.98 322.23 L206.13 322.17 L206.28 322.11 L206.43 322.06 L206.58 322 L206.73 321.95 L206.87 321.9 L207.02 321.85 L207.17 321.8 L207.32 321.75 L207.47 321.7 L207.62 321.65 L207.77 321.6 L207.92 321.56 L208.07 321.51 L208.22 321.46 L208.37 321.42 L208.52 321.37 L208.67 321.33 L208.82 321.29 L208.97 321.25 L209.12 321.2 L209.27 321.16 L209.42 321.12 L209.57 321.08 L209.72 321.04 L209.86 321 L210.01 320.96 L210.16 320.92 L210.31 320.88 L210.46 320.85 L210.61 320.81 L210.76 320.77 L210.91 320.73 L211.06 320.7 L211.21 320.66 L211.36 320.63 L211.51 320.59 L211.66 320.56 L211.81 320.52 L211.96 320.49 L212.11 320.46 L212.26 320.42 L212.41 320.39 L212.56 320.36 L212.71 320.32 L212.85 320.29 L213 320.26 L213.15 320.23 L213.3 320.2 L213.45 320.17 L213.6 320.14 L213.75 320.11 L213.9 320.08 L214.05 320.05 L214.2 320.02 L214.35 319.99 L214.5 319.96 L214.65 319.93 L214.8 319.9 L214.95 319.88 L215.1 319.85 L215.25 319.82 L215.4 319.79 L215.55 319.77 L215.7 319.74 L215.84 319.71 L215.99 319.69 L216.14 319.66 L216.29 319.64 L216.44 319.61 L216.59 319.58 L216.74 319.56 L216.89 319.53 L217.04 319.51 L217.19 319.49 L217.34 319.46 L217.49 319.44 L217.64 319.41 L217.79 319.39 L217.94 319.37 L218.09 319.34 L218.24 319.32 L218.39 319.3 L218.54 319.27 L218.69 319.25 L218.83 319.23 L218.98 319.21 L219.13 319.18 L219.28 319.16 L219.43 319.14 L219.58 319.12 L219.73 319.1 L219.88 319.08 L220.03 319.05 L220.18 319.03 L220.33 319.01 L220.48 318.99 L220.63 318.97 L220.78 318.95 L220.93 318.93 L221.08 318.91 L221.23 318.89 L221.38 318.87 L221.53 318.85 L221.68 318.83 L221.82 318.81 L221.97 318.79 L222.12 318.78 L222.27 318.76 L222.42 318.74 L222.57 318.72 L222.72 318.7 L222.87 318.68 L223.02 318.67 L223.17 318.65 L223.32 318.63 L223.47 318.61 L223.62 318.59 L223.77 318.58 L223.92 318.56 L224.07 318.54 L224.22 318.53 L224.37 318.51 L224.52 318.49 L224.67 318.48 L224.81 318.46 L224.96 318.44 L225.11 318.43 L225.26 318.41 L225.41 318.39 L225.56 318.38 L225.71 318.36 L225.86 318.35 L226.01 318.33 L226.16 318.32 L226.31 318.3 L226.46 318.28 L226.61 318.27 L226.76 318.25 L226.91 318.24 L227.06 318.22 L227.21 318.21 L227.36 318.2 L227.51 318.18 L227.66 318.17 L227.8 318.15 L227.95 318.14 L228.1 318.12 L228.25 318.11 L228.4 318.1 L228.55 318.08 L228.7 318.07 L228.85 318.06 L229 318.04 L229.15 318.03 L229.3 318.02 L229.45 318 L229.6 317.99 L229.75 317.98 L229.9 317.96 L230.05 317.95 L230.2 317.94 L230.35 317.93 L230.5 317.91 L230.65 317.9 L230.79 317.89 L230.94 317.88 L231.09 317.86 L231.24 317.85 L231.39 317.84 L231.54 317.83 L231.69 317.82 L231.84 317.81 L231.99 317.79 L232.14 317.78 L232.29 317.77 L232.44 317.76 L232.59 317.75 L232.74 317.74 L232.89 317.73 L233.04 317.72 L233.19 317.7 L233.34 317.69 L233.49 317.68 L233.64 317.67 L233.78 317.66 L233.93 317.65 L234.08 317.64 L234.23 317.63 L234.38 317.62 L234.53 317.61 L234.68 317.6 L234.83 317.59 L234.98 317.58 L235.13 317.57 L235.28 317.56 L235.43 317.55 L235.58 317.54 L235.73 317.53 L235.88 317.52 L236.03 317.51 L236.18 317.51 L236.33 317.5 L236.48 317.49 L236.63 317.48 L236.77 317.47 L236.92 317.46 L237.07 317.45 L237.22 317.44 L237.37 317.43 L237.52 317.43 L237.67 317.42 L237.82 317.41 L237.97 317.4 L238.12 317.39 L238.27 317.38 L238.42 317.38 L238.57 317.37 L238.72 317.36 L238.87 317.35 L239.02 317.34 L239.17 317.34 L239.32 317.33 L239.47 317.32 L239.62 317.31 L239.76 317.31 L239.91 317.3 L240.06 317.29 L240.21 317.28 L240.36 317.28 L240.51 317.27 L240.66 317.26 L240.81 317.26 L240.96 317.25 L241.11 317.24 L241.26 317.24 L241.41 317.23 L241.56 317.22 L241.71 317.22 L241.86 317.21 L242.01 317.2 L242.16 317.2 L242.31 317.19 L242.46 317.18 L242.61 317.18 L242.75 317.17 L242.9 317.17 L243.05 317.16 L243.2 317.15 L243.35 317.15 L243.5 317.14 L243.65 317.14 L243.8 317.13 L243.95 317.13 L244.1 317.12 L244.25 317.11 L244.4 317.11 L244.55 317.1 L244.7 317.1 L244.85 317.09 L245 317.09 L245.15 317.08 L245.3 317.08 L245.45 317.07 L245.6 317.07 L245.74 317.06 L245.89 317.06 L246.04 317.05 L246.19 317.05 L246.34 317.05 L246.49 317.04 L246.64 317.04 L246.79 317.03 L246.94 317.03 L247.09 317.02 L247.24 317.02 L247.39 317.02 L247.54 317.01 L247.69 317.01 L247.84 317 L247.99 317 L248.14 317 L248.29 316.99 L248.44 316.99 L248.59 316.99 L248.73 316.98 L248.88 316.98 L249.03 316.97 L249.18 316.97 L249.33 316.97 L249.48 316.97 L249.63 316.96 L249.78 316.96 L249.93 316.96 L250.08 316.95 L250.23 316.95 L250.38 316.95 L250.53 316.94 L250.68 316.94 L250.83 316.94 L250.98 316.94 L251.13 316.93 L251.28 316.93 L251.43 316.93 L251.58 316.93 L251.72 316.92 L251.87 316.92 L252.02 316.92 L252.17 316.92 L252.32 316.91 L252.47 316.91 L252.62 316.91 L252.77 316.91 L252.92 316.91 L253.07 316.91 L253.22 316.9 L253.37 316.9 L253.52 316.9 L253.67 316.9 L253.82 316.9 L253.97 316.9 L254.12 316.89 L254.27 316.89 L254.42 316.89 L254.57 316.89 L254.71 316.89 L254.86 316.89 L255.01 316.89 L255.16 316.89 L255.31 316.89 L255.46 316.88 L255.61 316.88 L255.76 316.88 L255.91 316.88 L256.06 316.88 L256.21 316.88 L256.36 316.88 L256.51 316.88 L256.66 316.88 L256.81 316.88 L256.96 316.88 L257.11 316.88 L257.26 316.88 L257.41 316.88 L257.56 316.88 L257.7 316.88 L257.85 316.88 L258 316.88 L258.15 316.88 L258.3 316.88 L258.45 316.88 L258.6 316.88 L258.75 316.88 L258.9 316.88 L259.05 316.88 L259.2 316.88 L259.35 316.88 L259.5 316.88 L259.65 316.88 L259.8 316.88 L259.95 316.89 L260.1 316.89 L260.25 316.89 L260.4 316.89 L260.55 316.89 L260.69 316.89 L260.84 316.89 L260.99 316.89 L261.14 316.89 L261.29 316.9 L261.44 316.9 L261.59 316.9 L261.74 316.9 L261.89 316.9 L262.04 316.9 L262.19 316.91 L262.34 316.91 L262.49 316.91 L262.64 316.91 L262.79 316.91 L262.94 316.91 L263.09 316.92 L263.24 316.92 L263.39 316.92 L263.54 316.92 L263.68 316.93 L263.83 316.93 L263.98 316.93 L264.13 316.93 L264.28 316.94 L264.43 316.94 L264.58 316.94 L264.73 316.94 L264.88 316.95 L265.03 316.95 L265.18 316.95 L265.33 316.96 L265.48 316.96 L265.63 316.96 L265.78 316.97 L265.93 316.97 L266.08 316.97 L266.23 316.97 L266.38 316.98 L266.53 316.98 L266.67 316.99 L266.82 316.99 L266.97 316.99 L267.12 317 L267.27 317 L267.42 317 L267.57 317.01 L267.72 317.01 L267.87 317.02 L268.02 317.02 L268.17 317.02 L268.32 317.03 L268.47 317.03 L268.62 317.04 L268.77 317.04 L268.92 317.05 L269.07 317.05 L269.22 317.05 L269.37 317.06 L269.52 317.06 L269.66 317.07 L269.81 317.07 L269.96 317.08 L270.11 317.08 L270.26 317.09 L270.41 317.09 L270.56 317.1 L270.71 317.1 L270.86 317.11 L271.01 317.11 L271.16 317.12 L271.31 317.13 L271.46 317.13 L271.61 317.14 L271.76 317.14 L271.91 317.15 L272.06 317.15 L272.21 317.16 L272.36 317.17 L272.51 317.17 L272.65 317.18 L272.8 317.18 L272.95 317.19 L273.1 317.2 L273.25 317.2 L273.4 317.21 L273.55 317.22 L273.7 317.22 L273.85 317.23 L274 317.24 L274.15 317.24 L274.3 317.25 L274.45 317.26 L274.6 317.26 L274.75 317.27 L274.9 317.28 L275.05 317.28 L275.2 317.29 L275.35 317.3 L275.5 317.31 L275.64 317.31 L275.79 317.32 L275.94 317.33 L276.09 317.34 L276.24 317.34 L276.39 317.35 L276.54 317.36 L276.69 317.37 L276.84 317.38 L276.99 317.38 L277.14 317.39 L277.29 317.4 L277.44 317.41 L277.59 317.42 L277.74 317.43 L277.89 317.43 L278.04 317.44 L278.19 317.45 L278.34 317.46 L278.49 317.47 L278.63 317.48 L278.78 317.49 L278.93 317.5 L279.08 317.51 L279.23 317.51 L279.38 317.52 L279.53 317.53 L279.68 317.54 L279.83 317.55 L279.98 317.56 L280.13 317.57 L280.28 317.58 L280.43 317.59 L280.58 317.6 L280.73 317.61 L280.88 317.62 L281.03 317.63 L281.18 317.64 L281.33 317.65 L281.48 317.66 L281.62 317.67 L281.77 317.68 L281.92 317.69 L282.07 317.7 L282.22 317.72 L282.37 317.73 L282.52 317.74 L282.67 317.75 L282.82 317.76 L282.97 317.77 L283.12 317.78 L283.27 317.79 L283.42 317.81 L283.57 317.82 L283.72 317.83 L283.87 317.84 L284.02 317.85 L284.17 317.86 L284.32 317.88 L284.47 317.89 L284.61 317.9 L284.76 317.91 L284.91 317.93 L285.06 317.94 L285.21 317.95 L285.36 317.96 L285.51 317.98 L285.66 317.99 L285.81 318 L285.96 318.02 L286.11 318.03 L286.26 318.04 L286.41 318.06 L286.56 318.07 L286.71 318.08 L286.86 318.1 L287.01 318.11 L287.16 318.12 L287.31 318.14 L287.46 318.15 L287.6 318.17 L287.75 318.18 L287.9 318.2 L288.05 318.21 L288.2 318.22 L288.35 318.24 L288.5 318.25 L288.65 318.27 L288.8 318.28 L288.95 318.3 L289.1 318.32 L289.25 318.33 L289.4 318.35 L289.55 318.36 L289.7 318.38 L289.85 318.39 L290 318.41 L290.15 318.43 L290.3 318.44 L290.45 318.46 L290.59 318.48 L290.74 318.49 L290.89 318.51 L291.04 318.53 L291.19 318.54 L291.34 318.56 L291.49 318.58 L291.64 318.59 L291.79 318.61 L291.94 318.63 L292.09 318.65 L292.24 318.67 L292.39 318.68 L292.54 318.7 L292.69 318.72 L292.84 318.74 L292.99 318.76 L293.14 318.78 L293.29 318.79 L293.44 318.81 L293.58 318.83 L293.73 318.85 L293.88 318.87 L294.03 318.89 L294.18 318.91 L294.33 318.93 L294.48 318.95 L294.63 318.97 L294.78 318.99 L294.93 319.01 L295.08 319.03 L295.23 319.05 L295.38 319.08 L295.53 319.1 L295.68 319.12 L295.83 319.14 L295.98 319.16 L296.13 319.18 L296.28 319.21 L296.43 319.23 L296.57 319.25 L296.72 319.27 L296.87 319.3 L297.02 319.32 L297.17 319.34 L297.32 319.37 L297.47 319.39 L297.62 319.41 L297.77 319.44 L297.92 319.46 L298.07 319.49 L298.22 319.51 L298.37 319.53 L298.52 319.56 L298.67 319.58 L298.82 319.61 L298.97 319.64 L299.12 319.66 L299.27 319.69 L299.42 319.71 L299.56 319.74 L299.71 319.77 L299.86 319.79 L300.01 319.82 L300.16 319.85 L300.31 319.88 L300.46 319.9 L300.61 319.93 L300.76 319.96 L300.91 319.99 L301.06 320.02 L301.21 320.05 L301.36 320.08 L301.51 320.11 L301.66 320.14 L301.81 320.17 L301.96 320.2 L302.11 320.23 L302.26 320.26 L302.41 320.29 L302.55 320.32 L302.7 320.36 L302.85 320.39 L303 320.42 L303.15 320.46 L303.3 320.49 L303.45 320.52 L303.6 320.56 L303.75 320.59 L303.9 320.63 L304.05 320.66 L304.2 320.7 L304.35 320.73 L304.5 320.77 L304.65 320.81 L304.8 320.85 L304.95 320.88 L305.1 320.92 L305.25 320.96 L305.4 321 L305.54 321.04 L305.69 321.08 L305.84 321.12 L305.99 321.16 L306.14 321.2 L306.29 321.25 L306.44 321.29 L306.59 321.33 L306.74 321.37 L306.89 321.42 L307.04 321.46 L307.19 321.51 L307.34 321.56 L307.49 321.6 L307.64 321.65 L307.79 321.7 L307.94 321.75 L308.09 321.8 L308.24 321.85 L308.39 321.9 L308.53 321.95 L308.68 322 L308.83 322.06 L308.98 322.11 L309.13 322.17 L309.28 322.23 L309.43 322.28 L309.58 322.34 L309.73 322.4 L309.88 322.46 L310.03 322.52 L310.18 322.59 L310.33 322.65 L310.48 322.72 L310.63 322.79 L310.78 322.85 L310.93 322.92 L311.08 323 L311.23 323.07 L311.38 323.15 L311.52 323.22 L311.67 323.3 L311.82 323.38 L311.97 323.47 L312.12 323.55 L312.27 323.64 L312.42 323.73 L312.57 323.83 L312.72 323.93 L312.87 324.03 L313.02 324.13 L313.17 324.24 L313.32 324.35 L313.47 324.47 L313.62 324.6 L313.77 324.73 L313.92 324.87 L314.07 325.01 L314.22 325.17 L314.37 325.33 L314.51 325.51 L314.66 325.71 L314.81 325.92 L314.96 326.16 L315.11 326.44 L315.26 326.76 L315.41 327.17 L315.56 327.74 L315.71 329.01 L315.86 330.15" fill="none" stroke="#f80018" stroke-width="1.1" stroke-linejoin="miter" stroke-miterlimit="10"/>
</g>
<text transform="translate(190.18 349.4) scale(1 1.03)" font-size="14.3" xml:space="preserve">-</text>
<path d="M763 0h-180v1147q-65 -62 -170.5 -124t-189.5 -93v174q151 71 264 172t160 196h116v-1472z" transform="translate(195.04 349.4) scale(0.00688 -0.00698)"/>
<text transform="translate(214.56 349.4) scale(1 1.03)" font-size="14.3" xml:space="preserve">-0.5</text>
<text transform="translate(255.65 349.4) scale(1 1.03)" font-size="14.3" xml:space="preserve">0</text>
<text transform="translate(279.84 349.4) scale(1 1.03)" font-size="14.3" xml:space="preserve">0.5</text>
<path d="M763 0h-180v1147q-65 -62 -170.5 -124t-189.5 -93v174q151 71 264 172t160 196h116v-1472z" transform="translate(315.44 349.4) scale(0.00688 -0.00698)"/>
<path d="M190.43 330.15v-2.5M196.54 330.15v-5M202.65 330.15v-2.5M208.76 330.15v-2.5M214.87 330.15v-2.5M220.98 330.15v-2.5M227.08 330.15v-5M233.19 330.15v-2.5M239.3 330.15v-2.5M245.41 330.15v-2.5M251.52 330.15v-2.5M257.63 330.15v-5M263.74 330.15v-2.5M269.85 330.15v-2.5M275.96 330.15v-2.5M282.07 330.15v-2.5M288.18 330.15v-5M294.28 330.15v-2.5M300.39 330.15v-2.5M306.5 330.15v-2.5M312.61 330.15v-2.5M318.72 330.15v-5M324.83 330.15v-2.5" stroke="#000" stroke-width="0.75" fill="none"/>
<text transform="translate(177.88 334.9) scale(1 1.03)" font-size="14.3" xml:space="preserve">0</text>
<path d="M763 0h-180v1147q-65 -62 -170.5 -124t-189.5 -93v174q151 71 264 172t160 196h116v-1472z" transform="translate(177.98 314.91) scale(0.00688 -0.00698)"/>
<text transform="translate(177.88 294.92) scale(1 1.03)" font-size="14.3" xml:space="preserve">2</text>
<text transform="translate(177.88 274.94) scale(1 1.03)" font-size="14.3" xml:space="preserve">3</text>
<text transform="translate(177.88 254.95) scale(1 1.03)" font-size="14.3" xml:space="preserve">4</text>
<path d="M190.43 330.15h5M190.43 326.15h2.5M190.43 322.15h2.5M190.43 318.16h2.5M190.43 314.16h2.5M190.43 310.16h5M190.43 306.16h2.5M190.43 302.17h2.5M190.43 298.17h2.5M190.43 294.17h2.5M190.43 290.17h5M190.43 286.18h2.5M190.43 282.18h2.5M190.43 278.18h2.5M190.43 274.19h2.5M190.43 270.19h5M190.43 266.19h2.5M190.43 262.19h2.5M190.43 258.19h2.5M190.43 254.2h2.5M190.43 250.2h5" stroke="#000" stroke-width="1.2" fill="none"/>
<text x="244.02" y="267.9" font-size="14.3" xml:space="preserve">t = 5</text>
<text x="302.79" y="267.3" font-size="14.3" xml:space="preserve">(e)</text>
<rect x="341.76" y="250.2" width="134.4" height="79.95" fill="none" stroke="#000" stroke-width="1.4"/>
<clipPath id="cp2"><rect x="341.76" y="250.2" width="134.4" height="79.95"/></clipPath>
<g clip-path="url(#cp2)">
<path d="M358.59 330.15H360.06V328.9H358.59ZM360.11 330.15H361.59V318.97H360.11ZM361.64 330.15H363.12V318.3H361.64ZM363.17 330.15H364.64V318.15H363.17ZM364.69 330.15H366.17V318.08H364.69ZM366.22 330.15H367.7V318.04H366.22ZM367.75 330.15H369.23V318.01H367.75ZM369.28 330.15H370.75V317.98H369.28ZM370.8 330.15H372.28V317.97H370.8ZM372.33 330.15H373.81V317.95H372.33ZM373.86 330.15H375.34V317.95H373.86ZM375.39 330.15H376.86V317.94H375.39ZM376.91 330.15H378.39V317.93H376.91ZM378.44 330.15H379.92V317.93H378.44ZM379.97 330.15H381.44V317.93H379.97ZM381.49 330.15H382.97V317.93H381.49ZM383.02 330.15H384.5V317.93H383.02ZM384.55 330.15H386.03V317.92H384.55ZM386.08 330.15H387.55V317.92H386.08ZM387.6 330.15H389.08V317.92H387.6ZM389.13 330.15H390.61V317.92H389.13ZM390.66 330.15H392.14V317.92H390.66ZM392.19 330.15H393.66V317.92H392.19ZM393.71 330.15H395.19V317.92H393.71ZM395.24 330.15H396.72V317.92H395.24ZM396.77 330.15H398.24V317.92H396.77ZM398.29 330.15H399.77V317.92H398.29ZM399.82 330.15H401.3V317.92H399.82ZM401.35 330.15H402.83V317.92H401.35ZM402.88 330.15H404.35V317.92H402.88ZM404.4 330.15H405.88V317.92H404.4ZM405.93 330.15H407.41V317.92H405.93ZM407.46 330.15H408.94V317.92H407.46ZM408.99 330.15H410.46V317.92H408.99ZM410.51 330.15H411.99V317.92H410.51ZM412.04 330.15H413.52V317.92H412.04ZM413.57 330.15H415.04V317.92H413.57ZM415.09 330.15H416.57V317.92H415.09ZM416.62 330.15H418.1V317.92H416.62ZM418.15 330.15H419.63V317.92H418.15ZM419.68 330.15H421.15V317.92H419.68ZM421.2 330.15H422.68V317.92H421.2ZM422.73 330.15H424.21V317.92H422.73ZM424.26 330.15H425.74V317.92H424.26ZM425.79 330.15H427.26V317.92H425.79ZM427.31 330.15H428.79V317.93H427.31ZM428.84 330.15H430.32V317.93H428.84ZM430.37 330.15H431.84V317.93H430.37ZM431.89 330.15H433.37V317.93H431.89ZM433.42 330.15H434.9V317.93H433.42ZM434.95 330.15H436.43V317.94H434.95ZM436.48 330.15H437.95V317.94H436.48ZM438 330.15H439.48V317.95H438ZM439.53 330.15H441.01V317.95H439.53ZM441.06 330.15H442.54V317.96H441.06ZM442.59 330.15H444.06V317.97H442.59ZM444.11 330.15H445.59V317.99H444.11ZM445.64 330.15H447.12V318.01H445.64ZM447.17 330.15H448.64V318.03H447.17ZM448.69 330.15H450.17V318.06H448.69ZM450.22 330.15H451.7V318.11H450.22ZM451.75 330.15H453.23V318.18H451.75ZM453.28 330.15H454.75V318.31H453.28ZM454.8 330.15H456.28V318.62H454.8ZM456.33 330.15H457.81V319.55H456.33ZM457.86 330.15H459.34V325.92H457.86Z" fill="#2664bb"/>
<path d="M341.76 330.15H359.85M458.67 330.15H476.16" fill="none" stroke="#f80018" stroke-width="1.1" opacity="0.25"/>
<path d="M359.85 330.15 L360 319.76 L360.15 319.41 L360.3 319.13 L360.45 318.9 L360.6 318.71 L360.75 318.55 L360.9 318.42 L361.05 318.31 L361.19 318.22 L361.34 318.14 L361.49 318.08 L361.64 318.02 L361.79 317.98 L361.94 317.94 L362.09 317.9 L362.24 317.88 L362.39 317.85 L362.54 317.83 L362.69 317.81 L362.84 317.79 L362.99 317.78 L363.14 317.76 L363.29 317.75 L363.44 317.74 L363.59 317.73 L363.74 317.72 L363.89 317.71 L364.04 317.7 L364.18 317.69 L364.33 317.69 L364.48 317.68 L364.63 317.67 L364.78 317.67 L364.93 317.66 L365.08 317.66 L365.23 317.65 L365.38 317.64 L365.53 317.64 L365.68 317.63 L365.83 317.63 L365.98 317.62 L366.13 317.62 L366.28 317.62 L366.43 317.61 L366.58 317.61 L366.73 317.6 L366.88 317.6 L367.03 317.6 L367.17 317.59 L367.32 317.59 L367.47 317.59 L367.62 317.58 L367.77 317.58 L367.92 317.58 L368.07 317.57 L368.22 317.57 L368.37 317.57 L368.52 317.56 L368.67 317.56 L368.82 317.56 L368.97 317.56 L369.12 317.55 L369.27 317.55 L369.42 317.55 L369.57 317.55 L369.72 317.55 L369.87 317.54 L370.02 317.54 L370.16 317.54 L370.31 317.54 L370.46 317.54 L370.61 317.53 L370.76 317.53 L370.91 317.53 L371.06 317.53 L371.21 317.53 L371.36 317.53 L371.51 317.53 L371.66 317.52 L371.81 317.52 L371.96 317.52 L372.11 317.52 L372.26 317.52 L372.41 317.52 L372.56 317.52 L372.71 317.51 L372.86 317.51 L373.01 317.51 L373.15 317.51 L373.3 317.51 L373.45 317.51 L373.6 317.51 L373.75 317.51 L373.9 317.51 L374.05 317.51 L374.2 317.51 L374.35 317.5 L374.5 317.5 L374.65 317.5 L374.8 317.5 L374.95 317.5 L375.1 317.5 L375.25 317.5 L375.4 317.5 L375.55 317.5 L375.7 317.5 L375.85 317.5 L376 317.5 L376.14 317.5 L376.29 317.5 L376.44 317.5 L376.59 317.49 L376.74 317.49 L376.89 317.49 L377.04 317.49 L377.19 317.49 L377.34 317.49 L377.49 317.49 L377.64 317.49 L377.79 317.49 L377.94 317.49 L378.09 317.49 L378.24 317.49 L378.39 317.49 L378.54 317.49 L378.69 317.49 L378.84 317.49 L378.99 317.49 L379.13 317.49 L379.28 317.49 L379.43 317.49 L379.58 317.49 L379.73 317.49 L379.88 317.49 L380.03 317.49 L380.18 317.49 L380.33 317.49 L380.48 317.49 L380.63 317.49 L380.78 317.49 L380.93 317.48 L381.08 317.48 L381.23 317.48 L381.38 317.48 L381.53 317.48 L381.68 317.48 L381.83 317.48 L381.98 317.48 L382.12 317.48 L382.27 317.48 L382.42 317.48 L382.57 317.48 L382.72 317.48 L382.87 317.48 L383.02 317.48 L383.17 317.48 L383.32 317.48 L383.47 317.48 L383.62 317.48 L383.77 317.48 L383.92 317.48 L384.07 317.48 L384.22 317.48 L384.37 317.48 L384.52 317.48 L384.67 317.48 L384.82 317.48 L384.97 317.48 L385.11 317.48 L385.26 317.48 L385.41 317.48 L385.56 317.48 L385.71 317.48 L385.86 317.48 L386.01 317.48 L386.16 317.48 L386.31 317.48 L386.46 317.48 L386.61 317.48 L386.76 317.48 L386.91 317.48 L387.06 317.48 L387.21 317.48 L387.36 317.48 L387.51 317.48 L387.66 317.48 L387.81 317.48 L387.96 317.48 L388.1 317.48 L388.25 317.48 L388.4 317.48 L388.55 317.48 L388.7 317.48 L388.85 317.48 L389 317.48 L389.15 317.48 L389.3 317.48 L389.45 317.48 L389.6 317.48 L389.75 317.48 L389.9 317.48 L390.05 317.48 L390.2 317.48 L390.35 317.48 L390.5 317.48 L390.65 317.48 L390.8 317.48 L390.95 317.48 L391.09 317.48 L391.24 317.48 L391.39 317.48 L391.54 317.48 L391.69 317.48 L391.84 317.48 L391.99 317.48 L392.14 317.48 L392.29 317.48 L392.44 317.48 L392.59 317.48 L392.74 317.48 L392.89 317.48 L393.04 317.48 L393.19 317.48 L393.34 317.48 L393.49 317.48 L393.64 317.48 L393.79 317.48 L393.94 317.48 L394.08 317.48 L394.23 317.48 L394.38 317.48 L394.53 317.48 L394.68 317.48 L394.83 317.48 L394.98 317.48 L395.13 317.48 L395.28 317.48 L395.43 317.48 L395.58 317.48 L395.73 317.48 L395.88 317.48 L396.03 317.48 L396.18 317.48 L396.33 317.48 L396.48 317.48 L396.63 317.48 L396.78 317.48 L396.93 317.48 L397.07 317.48 L397.22 317.48 L397.37 317.48 L397.52 317.48 L397.67 317.48 L397.82 317.48 L397.97 317.48 L398.12 317.48 L398.27 317.48 L398.42 317.48 L398.57 317.48 L398.72 317.48 L398.87 317.48 L399.02 317.48 L399.17 317.48 L399.32 317.48 L399.47 317.48 L399.62 317.48 L399.77 317.48 L399.92 317.48 L400.06 317.48 L400.21 317.48 L400.36 317.48 L400.51 317.48 L400.66 317.48 L400.81 317.48 L400.96 317.48 L401.11 317.48 L401.26 317.48 L401.41 317.48 L401.56 317.48 L401.71 317.48 L401.86 317.48 L402.01 317.48 L402.16 317.48 L402.31 317.48 L402.46 317.48 L402.61 317.48 L402.76 317.48 L402.91 317.48 L403.05 317.48 L403.2 317.48 L403.35 317.48 L403.5 317.48 L403.65 317.48 L403.8 317.48 L403.95 317.48 L404.1 317.48 L404.25 317.48 L404.4 317.48 L404.55 317.48 L404.7 317.48 L404.85 317.48 L405 317.48 L405.15 317.48 L405.3 317.48 L405.45 317.48 L405.6 317.48 L405.75 317.48 L405.9 317.48 L406.04 317.48 L406.19 317.48 L406.34 317.48 L406.49 317.48 L406.64 317.48 L406.79 317.48 L406.94 317.48 L407.09 317.48 L407.24 317.48 L407.39 317.48 L407.54 317.48 L407.69 317.48 L407.84 317.48 L407.99 317.48 L408.14 317.48 L408.29 317.48 L408.44 317.48 L408.59 317.48 L408.74 317.48 L408.89 317.48 L409.03 317.48 L409.18 317.48 L409.33 317.48 L409.48 317.48 L409.63 317.48 L409.78 317.48 L409.93 317.48 L410.08 317.48 L410.23 317.48 L410.38 317.48 L410.53 317.48 L410.68 317.48 L410.83 317.48 L410.98 317.48 L411.13 317.48 L411.28 317.48 L411.43 317.48 L411.58 317.48 L411.73 317.48 L411.88 317.48 L412.02 317.48 L412.17 317.48 L412.32 317.48 L412.47 317.48 L412.62 317.48 L412.77 317.48 L412.92 317.48 L413.07 317.48 L413.22 317.48 L413.37 317.48 L413.52 317.48 L413.67 317.48 L413.82 317.48 L413.97 317.48 L414.12 317.48 L414.27 317.48 L414.42 317.48 L414.57 317.48 L414.72 317.48 L414.87 317.48 L415.01 317.48 L415.16 317.48 L415.31 317.48 L415.46 317.48 L415.61 317.48 L415.76 317.48 L415.91 317.48 L416.06 317.48 L416.21 317.48 L416.36 317.48 L416.51 317.48 L416.66 317.48 L416.81 317.48 L416.96 317.48 L417.11 317.48 L417.26 317.48 L417.41 317.48 L417.56 317.48 L417.71 317.48 L417.86 317.48 L418 317.48 L418.15 317.48 L418.3 317.48 L418.45 317.48 L418.6 317.48 L418.75 317.48 L418.9 317.48 L419.05 317.48 L419.2 317.48 L419.35 317.48 L419.5 317.48 L419.65 317.48 L419.8 317.48 L419.95 317.48 L420.1 317.48 L420.25 317.48 L420.4 317.48 L420.55 317.48 L420.7 317.48 L420.85 317.48 L420.99 317.48 L421.14 317.48 L421.29 317.48 L421.44 317.48 L421.59 317.48 L421.74 317.48 L421.89 317.48 L422.04 317.48 L422.19 317.48 L422.34 317.48 L422.49 317.48 L422.64 317.48 L422.79 317.48 L422.94 317.48 L423.09 317.48 L423.24 317.48 L423.39 317.48 L423.54 317.48 L423.69 317.48 L423.84 317.48 L423.98 317.48 L424.13 317.48 L424.28 317.48 L424.43 317.48 L424.58 317.48 L424.73 317.48 L424.88 317.48 L425.03 317.48 L425.18 317.48 L425.33 317.48 L425.48 317.48 L425.63 317.48 L425.78 317.48 L425.93 317.48 L426.08 317.48 L426.23 317.48 L426.38 317.48 L426.53 317.48 L426.68 317.48 L426.83 317.48 L426.97 317.48 L427.12 317.48 L427.27 317.48 L427.42 317.48 L427.57 317.48 L427.72 317.48 L427.87 317.48 L428.02 317.48 L428.17 317.48 L428.32 317.48 L428.47 317.48 L428.62 317.48 L428.77 317.48 L428.92 317.48 L429.07 317.48 L429.22 317.48 L429.37 317.48 L429.52 317.48 L429.67 317.48 L429.82 317.48 L429.96 317.48 L430.11 317.48 L430.26 317.48 L430.41 317.48 L430.56 317.48 L430.71 317.48 L430.86 317.48 L431.01 317.48 L431.16 317.49 L431.31 317.49 L431.46 317.49 L431.61 317.49 L431.76 317.49 L431.91 317.49 L432.06 317.49 L432.21 317.49 L432.36 317.49 L432.51 317.49 L432.66 317.49 L432.81 317.49 L432.95 317.49 L433.1 317.49 L433.25 317.49 L433.4 317.49 L433.55 317.49 L433.7 317.49 L433.85 317.49 L434 317.49 L434.15 317.49 L434.3 317.49 L434.45 317.49 L434.6 317.49 L434.75 317.49 L434.9 317.49 L435.05 317.49 L435.2 317.49 L435.35 317.49 L435.5 317.49 L435.65 317.49 L435.8 317.49 L435.94 317.49 L436.09 317.49 L436.24 317.49 L436.39 317.49 L436.54 317.5 L436.69 317.5 L436.84 317.5 L436.99 317.5 L437.14 317.5 L437.29 317.5 L437.44 317.5 L437.59 317.5 L437.74 317.5 L437.89 317.5 L438.04 317.5 L438.19 317.5 L438.34 317.5 L438.49 317.5 L438.64 317.5 L438.79 317.5 L438.93 317.5 L439.08 317.5 L439.23 317.5 L439.38 317.51 L439.53 317.51 L439.68 317.51 L439.83 317.51 L439.98 317.51 L440.13 317.51 L440.28 317.51 L440.43 317.51 L440.58 317.51 L440.73 317.51 L440.88 317.51 L441.03 317.51 L441.18 317.51 L441.33 317.52 L441.48 317.52 L441.63 317.52 L441.78 317.52 L441.92 317.52 L442.07 317.52 L442.22 317.52 L442.37 317.52 L442.52 317.52 L442.67 317.52 L442.82 317.53 L442.97 317.53 L443.12 317.53 L443.27 317.53 L443.42 317.53 L443.57 317.53 L443.72 317.53 L443.87 317.54 L444.02 317.54 L444.17 317.54 L444.32 317.54 L444.47 317.54 L444.62 317.54 L444.77 317.54 L444.91 317.55 L445.06 317.55 L445.21 317.55 L445.36 317.55 L445.51 317.55 L445.66 317.55 L445.81 317.56 L445.96 317.56 L446.11 317.56 L446.26 317.56 L446.41 317.56 L446.56 317.57 L446.71 317.57 L446.86 317.57 L447.01 317.57 L447.16 317.58 L447.31 317.58 L447.46 317.58 L447.61 317.58 L447.76 317.59 L447.9 317.59 L448.05 317.59 L448.2 317.59 L448.35 317.6 L448.5 317.6 L448.65 317.6 L448.8 317.61 L448.95 317.61 L449.1 317.61 L449.25 317.62 L449.4 317.62 L449.55 317.63 L449.7 317.63 L449.85 317.63 L450 317.64 L450.15 317.64 L450.3 317.65 L450.45 317.65 L450.6 317.66 L450.75 317.66 L450.89 317.67 L451.04 317.67 L451.19 317.68 L451.34 317.68 L451.49 317.69 L451.64 317.7 L451.79 317.7 L451.94 317.71 L452.09 317.72 L452.24 317.72 L452.39 317.73 L452.54 317.74 L452.69 317.75 L452.84 317.76 L452.99 317.77 L453.14 317.78 L453.29 317.8 L453.44 317.81 L453.59 317.82 L453.74 317.84 L453.88 317.85 L454.03 317.87 L454.18 317.89 L454.33 317.91 L454.48 317.94 L454.63 317.96 L454.78 317.99 L454.93 318.02 L455.08 318.06 L455.23 318.09 L455.38 318.13 L455.53 318.18 L455.68 318.23 L455.83 318.29 L455.98 318.35 L456.13 318.42 L456.28 318.5 L456.43 318.58 L456.58 318.68 L456.73 318.79 L456.87 318.91 L457.02 319.05 L457.17 319.2 L457.32 319.37 L457.47 319.56 L457.62 319.78 L457.77 320.02 L457.92 320.29 L458.07 320.6 L458.22 320.94 L458.37 321.33 L458.52 321.77 L458.67 330.15" fill="none" stroke="#f80018" stroke-width="1.1" stroke-linejoin="miter" stroke-miterlimit="10"/>
</g>
<text transform="translate(341.51 349.4) scale(1 1.03)" font-size="14.3" xml:space="preserve">-</text>
<path d="M763 0h-180v1147q-65 -62 -170.5 -124t-189.5 -93v174q151 71 264 172t160 196h116v-1472z" transform="translate(346.37 349.4) scale(0.00688 -0.00698)"/>
<text transform="translate(365.89 349.4) scale(1 1.03)" font-size="14.3" xml:space="preserve">-0.5</text>
<text transform="translate(406.98 349.4) scale(1 1.03)" font-size="14.3" xml:space="preserve">0</text>
<text transform="translate(431.17 349.4) scale(1 1.03)" font-size="14.3" xml:space="preserve">0.5</text>
<path d="M763 0h-180v1147q-65 -62 -170.5 -124t-189.5 -93v174q151 71 264 172t160 196h116v-1472z" transform="translate(466.77 349.4) scale(0.00688 -0.00698)"/>
<path d="M341.76 330.15v-2.5M347.87 330.15v-5M353.98 330.15v-2.5M360.09 330.15v-2.5M366.2 330.15v-2.5M372.31 330.15v-2.5M378.41 330.15v-5M384.52 330.15v-2.5M390.63 330.15v-2.5M396.74 330.15v-2.5M402.85 330.15v-2.5M408.96 330.15v-5M415.07 330.15v-2.5M421.18 330.15v-2.5M427.29 330.15v-2.5M433.4 330.15v-2.5M439.51 330.15v-5M445.61 330.15v-2.5M451.72 330.15v-2.5M457.83 330.15v-2.5M463.94 330.15v-2.5M470.05 330.15v-5M476.16 330.15v-2.5" stroke="#000" stroke-width="0.75" fill="none"/>
<text transform="translate(329.21 334.9) scale(1 1.03)" font-size="14.3" xml:space="preserve">0</text>
<path d="M763 0h-180v1147q-65 -62 -170.5 -124t-189.5 -93v174q151 71 264 172t160 196h116v-1472z" transform="translate(329.31 314.91) scale(0.00688 -0.00698)"/>
<text transform="translate(329.21 294.92) scale(1 1.03)" font-size="14.3" xml:space="preserve">2</text>
<text transform="translate(329.21 274.94) scale(1 1.03)" font-size="14.3" xml:space="preserve">3</text>
<text transform="translate(329.21 254.95) scale(1 1.03)" font-size="14.3" xml:space="preserve">4</text>
<path d="M341.76 330.15h5M341.76 326.15h2.5M341.76 322.15h2.5M341.76 318.16h2.5M341.76 314.16h2.5M341.76 310.16h5M341.76 306.16h2.5M341.76 302.17h2.5M341.76 298.17h2.5M341.76 294.17h2.5M341.76 290.17h5M341.76 286.18h2.5M341.76 282.18h2.5M341.76 278.18h2.5M341.76 274.19h2.5M341.76 270.19h5M341.76 266.19h2.5M341.76 262.19h2.5M341.76 258.19h2.5M341.76 254.2h2.5M341.76 250.2h5" stroke="#000" stroke-width="1.2" fill="none"/>
<text x="390.87" y="267.9" font-size="14.3" xml:space="preserve">t = </text>
<path d="M763 0h-180v1147q-65 -62 -170.5 -124t-189.5 -93v174q151 71 264 172t160 196h116v-1472z" transform="translate(411.24 267.9) scale(0.00688 -0.00688)"/>
<text x="419.09" y="267.9" font-size="14.3" xml:space="preserve">0</text>
<text x="456.11" y="267.3" font-size="14.3" xml:space="preserve">(f)</text>
<rect x="493.09" y="250.2" width="134.4" height="79.95" fill="none" stroke="#000" stroke-width="1.4"/>
<clipPath id="cp3"><rect x="493.09" y="250.2" width="134.4" height="79.95"/></clipPath>
<g clip-path="url(#cp3)">
<path d="M517.55 330.15H519.03V281.97H517.55ZM519.08 330.15H520.56V304.5H519.08ZM520.61 330.15H522.08V309.23H520.61ZM522.13 330.15H523.61V311.76H522.13ZM523.66 330.15H525.14V313.4H523.66ZM525.19 330.15H526.67V314.58H525.19ZM526.72 330.15H528.19V315.47H526.72ZM528.24 330.15H529.72V316.17H528.24ZM529.77 330.15H531.25V316.75H529.77ZM531.3 330.15H532.77V317.22H531.3ZM532.82 330.15H534.3V317.62H532.82ZM534.35 330.15H535.83V317.96H534.35ZM535.88 330.15H537.36V318.25H535.88ZM537.41 330.15H538.88V318.51H537.41ZM538.93 330.15H540.41V318.73H538.93ZM540.46 330.15H541.94V318.92H540.46ZM541.99 330.15H543.47V319.09H541.99ZM543.52 330.15H544.99V319.23H543.52ZM545.04 330.15H546.52V319.36H545.04ZM546.57 330.15H548.05V319.47H546.57ZM548.1 330.15H549.57V319.56H548.1ZM549.62 330.15H551.1V319.64H549.62ZM551.15 330.15H552.63V319.71H551.15ZM552.68 330.15H554.16V319.77H552.68ZM554.21 330.15H555.68V319.81H554.21ZM555.73 330.15H557.21V319.84H555.73ZM557.26 330.15H558.74V319.86H557.26ZM558.79 330.15H560.27V319.87H558.79ZM560.32 330.15H561.79V319.87H560.32ZM561.84 330.15H563.32V319.86H561.84ZM563.37 330.15H564.85V319.84H563.37ZM564.9 330.15H566.37V319.81H564.9ZM566.42 330.15H567.9V319.77H566.42ZM567.95 330.15H569.43V319.71H567.95ZM569.48 330.15H570.96V319.64H569.48ZM571.01 330.15H572.48V319.56H571.01ZM572.53 330.15H574.01V319.47H572.53ZM574.06 330.15H575.54V319.36H574.06ZM575.59 330.15H577.07V319.23H575.59ZM577.12 330.15H578.59V319.09H577.12ZM578.64 330.15H580.12V318.92H578.64ZM580.17 330.15H581.65V318.73H580.17ZM581.7 330.15H583.17V318.51H581.7ZM583.22 330.15H584.7V318.25H583.22ZM584.75 330.15H586.23V317.96H584.75ZM586.28 330.15H587.76V317.62H586.28ZM587.81 330.15H589.28V317.22H587.81ZM589.33 330.15H590.81V316.75H589.33ZM590.86 330.15H592.34V316.17H590.86ZM592.39 330.15H593.87V315.47H592.39ZM593.92 330.15H595.39V314.58H593.92ZM595.44 330.15H596.92V313.4H595.44ZM596.97 330.15H598.45V311.76H596.97ZM598.5 330.15H599.97V309.23H598.5ZM600.02 330.15H601.5V304.5H600.02ZM601.55 330.15H603.03V281.97H601.55Z" fill="#2664bb"/>
<path d="M493.09 330.15H517.53M602.87 330.15H627.49" fill="none" stroke="#f80018" stroke-width="1.1" opacity="0.25"/>
<path d="M517.53 330.15 L517.53 242.2 L518.17 242.2 L518.77 296.87 L518.93 298.48 L519.1 299.83 L519.26 301.01 L519.43 302.03 L519.6 302.93 L519.76 303.74 L519.93 304.46 L520.1 305.12 L520.26 305.72 L520.43 306.27 L520.59 306.78 L520.76 307.25 L520.93 307.68 L521.09 308.09 L521.26 308.47 L521.42 308.83 L521.59 309.16 L521.76 309.48 L521.92 309.78 L522.09 310.06 L522.25 310.33 L522.42 310.59 L522.59 310.83 L522.75 311.06 L522.92 311.28 L523.08 311.5 L523.25 311.7 L523.42 311.89 L523.58 312.08 L523.75 312.26 L523.91 312.43 L524.08 312.6 L524.25 312.76 L524.41 312.91 L524.58 313.06 L524.75 313.21 L524.91 313.35 L525.08 313.48 L525.24 313.61 L525.41 313.74 L525.58 313.86 L525.74 313.98 L525.91 314.09 L526.07 314.21 L526.24 314.31 L526.41 314.42 L526.57 314.52 L526.74 314.62 L526.9 314.72 L527.07 314.81 L527.24 314.91 L527.4 315 L527.57 315.08 L527.73 315.17 L527.9 315.25 L528.07 315.33 L528.23 315.41 L528.4 315.49 L528.56 315.57 L528.73 315.64 L528.9 315.71 L529.06 315.78 L529.23 315.85 L529.4 315.92 L529.56 315.98 L529.73 316.05 L529.89 316.11 L530.06 316.17 L530.23 316.24 L530.39 316.3 L530.56 316.35 L530.72 316.41 L530.89 316.47 L531.06 316.52 L531.22 316.58 L531.39 316.63 L531.55 316.68 L531.72 316.73 L531.89 316.78 L532.05 316.83 L532.22 316.88 L532.38 316.92 L532.55 316.97 L532.72 317.02 L532.88 317.06 L533.05 317.1 L533.21 317.15 L533.38 317.19 L533.55 317.23 L533.71 317.27 L533.88 317.31 L534.04 317.35 L534.21 317.39 L534.38 317.43 L534.54 317.47 L534.71 317.5 L534.88 317.54 L535.04 317.58 L535.21 317.61 L535.37 317.65 L535.54 317.68 L535.71 317.71 L535.87 317.75 L536.04 317.78 L536.2 317.81 L536.37 317.84 L536.54 317.87 L536.7 317.9 L536.87 317.93 L537.03 317.96 L537.2 317.99 L537.37 318.02 L537.53 318.05 L537.7 318.08 L537.86 318.1 L538.03 318.13 L538.2 318.16 L538.36 318.18 L538.53 318.21 L538.69 318.23 L538.86 318.26 L539.03 318.28 L539.19 318.31 L539.36 318.33 L539.53 318.35 L539.69 318.38 L539.86 318.4 L540.02 318.42 L540.19 318.44 L540.36 318.47 L540.52 318.49 L540.69 318.51 L540.85 318.53 L541.02 318.55 L541.19 318.57 L541.35 318.59 L541.52 318.61 L541.68 318.63 L541.85 318.65 L542.02 318.67 L542.18 318.69 L542.35 318.7 L542.51 318.72 L542.68 318.74 L542.85 318.76 L543.01 318.77 L543.18 318.79 L543.34 318.81 L543.51 318.82 L543.68 318.84 L543.84 318.86 L544.01 318.87 L544.18 318.89 L544.34 318.9 L544.51 318.92 L544.67 318.93 L544.84 318.95 L545.01 318.96 L545.17 318.98 L545.34 318.99 L545.5 319 L545.67 319.02 L545.84 319.03 L546 319.04 L546.17 319.06 L546.33 319.07 L546.5 319.08 L546.67 319.09 L546.83 319.11 L547 319.12 L547.16 319.13 L547.33 319.14 L547.5 319.15 L547.66 319.16 L547.83 319.17 L547.99 319.18 L548.16 319.2 L548.33 319.21 L548.49 319.22 L548.66 319.23 L548.83 319.24 L548.99 319.25 L549.16 319.26 L549.32 319.26 L549.49 319.27 L549.66 319.28 L549.82 319.29 L549.99 319.3 L550.15 319.31 L550.32 319.32 L550.49 319.33 L550.65 319.33 L550.82 319.34 L550.98 319.35 L551.15 319.36 L551.32 319.36 L551.48 319.37 L551.65 319.38 L551.81 319.39 L551.98 319.39 L552.15 319.4 L552.31 319.41 L552.48 319.41 L552.64 319.42 L552.81 319.42 L552.98 319.43 L553.14 319.44 L553.31 319.44 L553.48 319.45 L553.64 319.45 L553.81 319.46 L553.97 319.46 L554.14 319.47 L554.31 319.47 L554.47 319.48 L554.64 319.48 L554.8 319.49 L554.97 319.49 L555.14 319.49 L555.3 319.5 L555.47 319.5 L555.63 319.51 L555.8 319.51 L555.97 319.51 L556.13 319.52 L556.3 319.52 L556.46 319.52 L556.63 319.53 L556.8 319.53 L556.96 319.53 L557.13 319.53 L557.29 319.54 L557.46 319.54 L557.63 319.54 L557.79 319.54 L557.96 319.54 L558.13 319.55 L558.29 319.55 L558.46 319.55 L558.62 319.55 L558.79 319.55 L558.96 319.55 L559.12 319.55 L559.29 319.55 L559.45 319.56 L559.62 319.56 L559.79 319.56 L559.95 319.56 L560.12 319.56 L560.28 319.56 L560.45 319.56 L560.62 319.56 L560.78 319.56 L560.95 319.56 L561.11 319.56 L561.28 319.55 L561.45 319.55 L561.61 319.55 L561.78 319.55 L561.94 319.55 L562.11 319.55 L562.28 319.55 L562.44 319.55 L562.61 319.54 L562.78 319.54 L562.94 319.54 L563.11 319.54 L563.27 319.54 L563.44 319.53 L563.61 319.53 L563.77 319.53 L563.94 319.53 L564.1 319.52 L564.27 319.52 L564.44 319.52 L564.6 319.51 L564.77 319.51 L564.93 319.51 L565.1 319.5 L565.27 319.5 L565.43 319.49 L565.6 319.49 L565.76 319.49 L565.93 319.48 L566.1 319.48 L566.26 319.47 L566.43 319.47 L566.59 319.46 L566.76 319.46 L566.93 319.45 L567.09 319.45 L567.26 319.44 L567.43 319.44 L567.59 319.43 L567.76 319.42 L567.92 319.42 L568.09 319.41 L568.26 319.4 L568.42 319.4 L568.59 319.39 L568.75 319.38 L568.92 319.38 L569.09 319.37 L569.25 319.36 L569.42 319.36 L569.58 319.35 L569.75 319.34 L569.92 319.33 L570.08 319.32 L570.25 319.32 L570.41 319.31 L570.58 319.3 L570.75 319.29 L570.91 319.28 L571.08 319.27 L571.24 319.26 L571.41 319.25 L571.58 319.24 L571.74 319.23 L571.91 319.22 L572.08 319.21 L572.24 319.2 L572.41 319.19 L572.57 319.18 L572.74 319.17 L572.91 319.16 L573.07 319.15 L573.24 319.14 L573.4 319.13 L573.57 319.11 L573.74 319.1 L573.9 319.09 L574.07 319.08 L574.23 319.06 L574.4 319.05 L574.57 319.04 L574.73 319.03 L574.9 319.01 L575.06 319 L575.23 318.99 L575.4 318.97 L575.56 318.96 L575.73 318.94 L575.89 318.93 L576.06 318.91 L576.23 318.9 L576.39 318.88 L576.56 318.87 L576.73 318.85 L576.89 318.83 L577.06 318.82 L577.22 318.8 L577.39 318.78 L577.56 318.77 L577.72 318.75 L577.89 318.73 L578.05 318.71 L578.22 318.7 L578.39 318.68 L578.55 318.66 L578.72 318.64 L578.88 318.62 L579.05 318.6 L579.22 318.58 L579.38 318.56 L579.55 318.54 L579.71 318.52 L579.88 318.5 L580.05 318.48 L580.21 318.46 L580.38 318.43 L580.54 318.41 L580.71 318.39 L580.88 318.37 L581.04 318.34 L581.21 318.32 L581.37 318.29 L581.54 318.27 L581.71 318.25 L581.87 318.22 L582.04 318.19 L582.21 318.17 L582.37 318.14 L582.54 318.12 L582.7 318.09 L582.87 318.06 L583.04 318.03 L583.2 318 L583.37 317.98 L583.53 317.95 L583.7 317.92 L583.87 317.89 L584.03 317.86 L584.2 317.82 L584.36 317.79 L584.53 317.76 L584.7 317.73 L584.86 317.69 L585.03 317.66 L585.19 317.63 L585.36 317.59 L585.53 317.55 L585.69 317.52 L585.86 317.48 L586.02 317.44 L586.19 317.41 L586.36 317.37 L586.52 317.33 L586.69 317.29 L586.86 317.25 L587.02 317.21 L587.19 317.16 L587.35 317.12 L587.52 317.08 L587.69 317.03 L587.85 316.99 L588.02 316.94 L588.18 316.89 L588.35 316.85 L588.52 316.8 L588.68 316.75 L588.85 316.7 L589.01 316.64 L589.18 316.59 L589.35 316.54 L589.51 316.48 L589.68 316.43 L589.84 316.37 L590.01 316.31 L590.18 316.25 L590.34 316.19 L590.51 316.13 L590.67 316.07 L590.84 316 L591.01 315.94 L591.17 315.87 L591.34 315.8 L591.51 315.73 L591.67 315.66 L591.84 315.58 L592 315.51 L592.17 315.43 L592.34 315.35 L592.5 315.27 L592.67 315.19 L592.83 315.1 L593 315.02 L593.17 314.93 L593.33 314.83 L593.5 314.74 L593.66 314.64 L593.83 314.54 L594 314.44 L594.16 314.33 L594.33 314.23 L594.49 314.11 L594.66 314 L594.83 313.88 L594.99 313.76 L595.16 313.63 L595.32 313.5 L595.49 313.37 L595.66 313.23 L595.82 313.09 L595.99 312.94 L596.16 312.78 L596.32 312.62 L596.49 312.46 L596.65 312.28 L596.82 312.1 L596.99 311.92 L597.15 311.72 L597.32 311.52 L597.48 311.31 L597.65 311.09 L597.82 310.85 L597.98 310.61 L598.15 310.36 L598.31 310.09 L598.48 309.8 L598.65 309.5 L598.81 309.19 L598.98 308.85 L599.14 308.49 L599.31 308.11 L599.48 307.71 L599.64 307.27 L599.81 306.8 L599.97 306.29 L600.14 305.74 L600.31 305.14 L600.47 304.48 L600.64 303.76 L600.81 302.95 L600.97 302.04 L601.14 301.02 L601.3 299.85 L601.47 298.48 L601.64 296.87 L602.23 242.2 L602.87 242.2 L602.87 330.15" fill="none" stroke="#f80018" stroke-width="1.1" stroke-linejoin="miter" stroke-miterlimit="10"/>
</g>
<text transform="translate(492.84 349.4) scale(1 1.03)" font-size="14.3" xml:space="preserve">-</text>
<path d="M763 0h-180v1147q-65 -62 -170.5 -124t-189.5 -93v174q151 71 264 172t160 196h116v-1472z" transform="translate(497.7 349.4) scale(0.00688 -0.00698)"/>
<text transform="translate(517.22 349.4) scale(1 1.03)" font-size="14.3" xml:space="preserve">-0.5</text>
<text transform="translate(558.31 349.4) scale(1 1.03)" font-size="14.3" xml:space="preserve">0</text>
<text transform="translate(582.5 349.4) scale(1 1.03)" font-size="14.3" xml:space="preserve">0.5</text>
<path d="M763 0h-180v1147q-65 -62 -170.5 -124t-189.5 -93v174q151 71 264 172t160 196h116v-1472z" transform="translate(618.1 349.4) scale(0.00688 -0.00698)"/>
<path d="M493.09 330.15v-2.5M499.2 330.15v-5M505.31 330.15v-2.5M511.42 330.15v-2.5M517.53 330.15v-2.5M523.64 330.15v-2.5M529.74 330.15v-5M535.85 330.15v-2.5M541.96 330.15v-2.5M548.07 330.15v-2.5M554.18 330.15v-2.5M560.29 330.15v-5M566.4 330.15v-2.5M572.51 330.15v-2.5M578.62 330.15v-2.5M584.73 330.15v-2.5M590.84 330.15v-5M596.94 330.15v-2.5M603.05 330.15v-2.5M609.16 330.15v-2.5M615.27 330.15v-2.5M621.38 330.15v-5M627.49 330.15v-2.5" stroke="#000" stroke-width="0.75" fill="none"/>
<text transform="translate(480.54 334.9) scale(1 1.03)" font-size="14.3" xml:space="preserve">0</text>
<path d="M763 0h-180v1147q-65 -62 -170.5 -124t-189.5 -93v174q151 71 264 172t160 196h116v-1472z" transform="translate(480.64 314.91) scale(0.00688 -0.00698)"/>
<text transform="translate(480.54 294.92) scale(1 1.03)" font-size="14.3" xml:space="preserve">2</text>
<text transform="translate(480.54 274.94) scale(1 1.03)" font-size="14.3" xml:space="preserve">3</text>
<text transform="translate(480.54 254.95) scale(1 1.03)" font-size="14.3" xml:space="preserve">4</text>
<path d="M493.09 330.15h5M493.09 326.15h2.5M493.09 322.15h2.5M493.09 318.16h2.5M493.09 314.16h2.5M493.09 310.16h5M493.09 306.16h2.5M493.09 302.17h2.5M493.09 298.17h2.5M493.09 294.17h2.5M493.09 290.17h5M493.09 286.18h2.5M493.09 282.18h2.5M493.09 278.18h2.5M493.09 274.19h2.5M493.09 270.19h5M493.09 266.19h2.5M493.09 262.19h2.5M493.09 258.19h2.5M493.09 254.2h2.5M493.09 250.2h5" stroke="#000" stroke-width="1.2" fill="none"/>
<text x="542.2" y="267.9" font-size="14.3" xml:space="preserve">t = </text>
<path d="M763 0h-180v1147q-65 -62 -170.5 -124t-189.5 -93v174q151 71 264 172t160 196h116v-1472z" transform="translate(562.57 267.9) scale(0.00688 -0.00688)"/>
<text x="570.42" y="267.9" font-size="14.3" xml:space="preserve">5</text>
<text x="605.45" y="267.3" font-size="14.3" xml:space="preserve">(g)</text>
<rect x="644.42" y="250.2" width="134.4" height="79.95" fill="none" stroke="#000" stroke-width="1.4"/>
<clipPath id="cp4"><rect x="644.42" y="250.2" width="134.4" height="79.95"/></clipPath>
<g clip-path="url(#cp4)">
<path d="M670.41 330.15H671.89V270.65H670.41ZM671.94 330.15H673.41V297.73H671.94ZM673.46 330.15H674.94V306.55H673.46ZM674.99 330.15H676.47V310.51H674.99ZM676.52 330.15H678V312.87H676.52ZM678.05 330.15H679.52V314.48H678.05ZM679.57 330.15H681.05V315.66H679.57ZM681.1 330.15H682.58V316.57H681.1ZM682.63 330.15H684.1V317.29H682.63ZM684.15 330.15H685.63V317.88H684.15ZM685.68 330.15H687.16V318.36H685.68ZM687.21 330.15H688.69V318.77H687.21ZM688.74 330.15H690.21V319.12H688.74ZM690.26 330.15H691.74V319.41H690.26ZM691.79 330.15H693.27V319.67H691.79ZM693.32 330.15H694.8V319.89H693.32ZM694.85 330.15H696.32V320.08H694.85ZM696.37 330.15H697.85V320.24H696.37ZM697.9 330.15H699.38V320.38H697.9ZM699.43 330.15H700.9V320.5H699.43ZM700.95 330.15H702.43V320.6H700.95ZM702.48 330.15H703.96V320.69H702.48ZM704.01 330.15H705.49V320.76H704.01ZM705.54 330.15H707.01V320.81H705.54ZM707.06 330.15H708.54V320.85H707.06ZM708.59 330.15H710.07V320.88H708.59ZM710.12 330.15H711.6V320.89H710.12ZM711.65 330.15H713.12V320.89H711.65ZM713.17 330.15H714.65V320.88H713.17ZM714.7 330.15H716.18V320.85H714.7ZM716.23 330.15H717.7V320.81H716.23ZM717.75 330.15H719.23V320.76H717.75ZM719.28 330.15H720.76V320.69H719.28ZM720.81 330.15H722.29V320.6H720.81ZM722.34 330.15H723.81V320.5H722.34ZM723.86 330.15H725.34V320.38H723.86ZM725.39 330.15H726.87V320.24H725.39ZM726.92 330.15H728.4V320.08H726.92ZM728.45 330.15H729.92V319.89H728.45ZM729.97 330.15H731.45V319.67H729.97ZM731.5 330.15H732.98V319.41H731.5ZM733.03 330.15H734.5V319.12H733.03ZM734.55 330.15H736.03V318.77H734.55ZM736.08 330.15H737.56V318.36H736.08ZM737.61 330.15H739.09V317.88H737.61ZM739.14 330.15H740.61V317.29H739.14ZM740.66 330.15H742.14V316.57H740.66ZM742.19 330.15H743.67V315.66H742.19ZM743.72 330.15H745.2V314.48H743.72ZM745.25 330.15H746.72V312.87H745.25ZM746.77 330.15H748.25V310.51H746.77ZM748.3 330.15H749.78V306.55H748.3ZM749.83 330.15H751.3V297.73H749.83ZM751.35 330.15H752.83V270.65H751.35Z" fill="#2664bb"/>
<path d="M644.42 330.15H670.89M752.35 330.15H778.82" fill="none" stroke="#f80018" stroke-width="1.1" opacity="0.25"/>
<path d="M670.89 330.15 L671.21 253.4 L671.34 265.81 L671.48 273.67 L671.61 279.19 L671.75 283.34 L671.88 286.61 L672.02 289.27 L672.15 291.49 L672.29 293.37 L672.42 295 L672.56 296.43 L672.69 297.69 L672.83 298.82 L672.96 299.83 L673.1 300.75 L673.23 301.58 L673.37 302.35 L673.5 303.05 L673.64 303.7 L673.77 304.31 L673.91 304.87 L674.04 305.4 L674.18 305.89 L674.31 306.35 L674.45 306.79 L674.58 307.2 L674.72 307.59 L674.85 307.96 L674.99 308.31 L675.12 308.64 L675.26 308.96 L675.39 309.26 L675.53 309.55 L675.66 309.82 L675.8 310.09 L675.93 310.34 L676.07 310.58 L676.2 310.82 L676.34 311.04 L676.47 311.26 L676.61 311.47 L676.74 311.67 L676.88 311.86 L677.01 312.05 L677.15 312.23 L677.28 312.4 L677.42 312.57 L677.55 312.73 L677.69 312.89 L677.82 313.04 L677.95 313.19 L678.09 313.34 L678.22 313.48 L678.36 313.61 L678.49 313.75 L678.63 313.88 L678.76 314 L678.9 314.12 L679.03 314.24 L679.17 314.36 L679.3 314.47 L679.44 314.58 L679.57 314.69 L679.71 314.79 L679.84 314.89 L679.98 314.99 L680.11 315.09 L680.25 315.18 L680.38 315.28 L680.52 315.37 L680.65 315.46 L680.79 315.54 L680.92 315.63 L681.06 315.71 L681.19 315.79 L681.33 315.87 L681.46 315.95 L681.6 316.03 L681.73 316.1 L681.87 316.18 L682 316.25 L682.14 316.32 L682.27 316.39 L682.41 316.45 L682.54 316.52 L682.68 316.59 L682.81 316.65 L682.95 316.71 L683.08 316.77 L683.22 316.83 L683.35 316.89 L683.49 316.95 L683.62 317.01 L683.76 317.07 L683.89 317.12 L684.03 317.17 L684.16 317.23 L684.3 317.28 L684.43 317.33 L684.57 317.38 L684.7 317.43 L684.84 317.48 L684.97 317.53 L685.11 317.58 L685.24 317.62 L685.38 317.67 L685.51 317.72 L685.65 317.76 L685.78 317.8 L685.92 317.85 L686.05 317.89 L686.19 317.93 L686.32 317.97 L686.46 318.01 L686.59 318.05 L686.73 318.09 L686.86 318.13 L687 318.17 L687.13 318.21 L687.27 318.24 L687.4 318.28 L687.53 318.32 L687.67 318.35 L687.8 318.39 L687.94 318.42 L688.07 318.45 L688.21 318.49 L688.34 318.52 L688.48 318.55 L688.61 318.58 L688.75 318.62 L688.88 318.65 L689.02 318.68 L689.15 318.71 L689.29 318.74 L689.42 318.77 L689.56 318.8 L689.69 318.83 L689.83 318.85 L689.96 318.88 L690.1 318.91 L690.23 318.94 L690.37 318.96 L690.5 318.99 L690.64 319.02 L690.77 319.04 L690.91 319.07 L691.04 319.09 L691.18 319.12 L691.31 319.14 L691.45 319.16 L691.58 319.19 L691.72 319.21 L691.85 319.23 L691.99 319.26 L692.12 319.28 L692.26 319.3 L692.39 319.32 L692.53 319.35 L692.66 319.37 L692.8 319.39 L692.93 319.41 L693.07 319.43 L693.2 319.45 L693.34 319.47 L693.47 319.49 L693.61 319.51 L693.74 319.53 L693.88 319.55 L694.01 319.57 L694.15 319.58 L694.28 319.6 L694.42 319.62 L694.55 319.64 L694.69 319.66 L694.82 319.67 L694.96 319.69 L695.09 319.71 L695.23 319.72 L695.36 319.74 L695.5 319.76 L695.63 319.77 L695.77 319.79 L695.9 319.81 L696.04 319.82 L696.17 319.84 L696.31 319.85 L696.44 319.87 L696.58 319.88 L696.71 319.89 L696.85 319.91 L696.98 319.92 L697.11 319.94 L697.25 319.95 L697.38 319.96 L697.52 319.98 L697.65 319.99 L697.79 320 L697.92 320.02 L698.06 320.03 L698.19 320.04 L698.33 320.05 L698.46 320.07 L698.6 320.08 L698.73 320.09 L698.87 320.1 L699 320.11 L699.14 320.12 L699.27 320.14 L699.41 320.15 L699.54 320.16 L699.68 320.17 L699.81 320.18 L699.95 320.19 L700.08 320.2 L700.22 320.21 L700.35 320.22 L700.49 320.23 L700.62 320.24 L700.76 320.25 L700.89 320.26 L701.03 320.27 L701.16 320.28 L701.3 320.28 L701.43 320.29 L701.57 320.3 L701.7 320.31 L701.84 320.32 L701.97 320.33 L702.11 320.34 L702.24 320.34 L702.38 320.35 L702.51 320.36 L702.65 320.37 L702.78 320.37 L702.92 320.38 L703.05 320.39 L703.19 320.4 L703.32 320.4 L703.46 320.41 L703.59 320.42 L703.73 320.42 L703.86 320.43 L704 320.43 L704.13 320.44 L704.27 320.45 L704.4 320.45 L704.54 320.46 L704.67 320.46 L704.81 320.47 L704.94 320.48 L705.08 320.48 L705.21 320.49 L705.35 320.49 L705.48 320.5 L705.62 320.5 L705.75 320.51 L705.89 320.51 L706.02 320.52 L706.16 320.52 L706.29 320.52 L706.43 320.53 L706.56 320.53 L706.7 320.54 L706.83 320.54 L706.96 320.54 L707.1 320.55 L707.23 320.55 L707.37 320.55 L707.5 320.56 L707.64 320.56 L707.77 320.56 L707.91 320.57 L708.04 320.57 L708.18 320.57 L708.31 320.58 L708.45 320.58 L708.58 320.58 L708.72 320.58 L708.85 320.58 L708.99 320.59 L709.12 320.59 L709.26 320.59 L709.39 320.59 L709.53 320.59 L709.66 320.6 L709.8 320.6 L709.93 320.6 L710.07 320.6 L710.2 320.6 L710.34 320.6 L710.47 320.6 L710.61 320.6 L710.74 320.6 L710.88 320.61 L711.01 320.61 L711.15 320.61 L711.28 320.61 L711.42 320.61 L711.55 320.61 L711.69 320.61 L711.82 320.61 L711.96 320.61 L712.09 320.61 L712.23 320.61 L712.36 320.61 L712.5 320.6 L712.63 320.6 L712.77 320.6 L712.9 320.6 L713.04 320.6 L713.17 320.6 L713.31 320.6 L713.44 320.6 L713.58 320.6 L713.71 320.59 L713.85 320.59 L713.98 320.59 L714.12 320.59 L714.25 320.59 L714.39 320.58 L714.52 320.58 L714.66 320.58 L714.79 320.58 L714.93 320.58 L715.06 320.57 L715.2 320.57 L715.33 320.57 L715.47 320.56 L715.6 320.56 L715.74 320.56 L715.87 320.55 L716.01 320.55 L716.14 320.55 L716.28 320.54 L716.41 320.54 L716.54 320.54 L716.68 320.53 L716.81 320.53 L716.95 320.52 L717.08 320.52 L717.22 320.52 L717.35 320.51 L717.49 320.51 L717.62 320.5 L717.76 320.5 L717.89 320.49 L718.03 320.49 L718.16 320.48 L718.3 320.48 L718.43 320.47 L718.57 320.46 L718.7 320.46 L718.84 320.45 L718.97 320.45 L719.11 320.44 L719.24 320.43 L719.38 320.43 L719.51 320.42 L719.65 320.42 L719.78 320.41 L719.92 320.4 L720.05 320.4 L720.19 320.39 L720.32 320.38 L720.46 320.37 L720.59 320.37 L720.73 320.36 L720.86 320.35 L721 320.34 L721.13 320.34 L721.27 320.33 L721.4 320.32 L721.54 320.31 L721.67 320.3 L721.81 320.29 L721.94 320.28 L722.08 320.28 L722.21 320.27 L722.35 320.26 L722.48 320.25 L722.62 320.24 L722.75 320.23 L722.89 320.22 L723.02 320.21 L723.16 320.2 L723.29 320.19 L723.43 320.18 L723.56 320.17 L723.7 320.16 L723.83 320.15 L723.97 320.14 L724.1 320.12 L724.24 320.11 L724.37 320.1 L724.51 320.09 L724.64 320.08 L724.78 320.07 L724.91 320.05 L725.05 320.04 L725.18 320.03 L725.32 320.02 L725.45 320 L725.59 319.99 L725.72 319.98 L725.86 319.96 L725.99 319.95 L726.13 319.94 L726.26 319.92 L726.39 319.91 L726.53 319.89 L726.66 319.88 L726.8 319.87 L726.93 319.85 L727.07 319.84 L727.2 319.82 L727.34 319.81 L727.47 319.79 L727.61 319.77 L727.74 319.76 L727.88 319.74 L728.01 319.72 L728.15 319.71 L728.28 319.69 L728.42 319.67 L728.55 319.66 L728.69 319.64 L728.82 319.62 L728.96 319.6 L729.09 319.58 L729.23 319.57 L729.36 319.55 L729.5 319.53 L729.63 319.51 L729.77 319.49 L729.9 319.47 L730.04 319.45 L730.17 319.43 L730.31 319.41 L730.44 319.39 L730.58 319.37 L730.71 319.35 L730.85 319.32 L730.98 319.3 L731.12 319.28 L731.25 319.26 L731.39 319.23 L731.52 319.21 L731.66 319.19 L731.79 319.16 L731.93 319.14 L732.06 319.12 L732.2 319.09 L732.33 319.07 L732.47 319.04 L732.6 319.02 L732.74 318.99 L732.87 318.96 L733.01 318.94 L733.14 318.91 L733.28 318.88 L733.41 318.85 L733.55 318.83 L733.68 318.8 L733.82 318.77 L733.95 318.74 L734.09 318.71 L734.22 318.68 L734.36 318.65 L734.49 318.62 L734.63 318.58 L734.76 318.55 L734.9 318.52 L735.03 318.49 L735.17 318.45 L735.3 318.42 L735.44 318.39 L735.57 318.35 L735.71 318.32 L735.84 318.28 L735.97 318.24 L736.11 318.21 L736.24 318.17 L736.38 318.13 L736.51 318.09 L736.65 318.05 L736.78 318.01 L736.92 317.97 L737.05 317.93 L737.19 317.89 L737.32 317.85 L737.46 317.8 L737.59 317.76 L737.73 317.72 L737.86 317.67 L738 317.62 L738.13 317.58 L738.27 317.53 L738.4 317.48 L738.54 317.43 L738.67 317.38 L738.81 317.33 L738.94 317.28 L739.08 317.23 L739.21 317.17 L739.35 317.12 L739.48 317.07 L739.62 317.01 L739.75 316.95 L739.89 316.89 L740.02 316.83 L740.16 316.77 L740.29 316.71 L740.43 316.65 L740.56 316.59 L740.7 316.52 L740.83 316.45 L740.97 316.39 L741.1 316.32 L741.24 316.25 L741.37 316.18 L741.51 316.1 L741.64 316.03 L741.78 315.95 L741.91 315.87 L742.05 315.79 L742.18 315.71 L742.32 315.63 L742.45 315.54 L742.59 315.46 L742.72 315.37 L742.86 315.28 L742.99 315.18 L743.13 315.09 L743.26 314.99 L743.4 314.89 L743.53 314.79 L743.67 314.69 L743.8 314.58 L743.94 314.47 L744.07 314.36 L744.21 314.24 L744.34 314.12 L744.48 314 L744.61 313.88 L744.75 313.75 L744.88 313.61 L745.02 313.48 L745.15 313.34 L745.29 313.19 L745.42 313.04 L745.55 312.89 L745.69 312.73 L745.82 312.57 L745.96 312.4 L746.09 312.23 L746.23 312.05 L746.36 311.86 L746.5 311.67 L746.63 311.47 L746.77 311.26 L746.9 311.04 L747.04 310.82 L747.17 310.58 L747.31 310.34 L747.44 310.09 L747.58 309.82 L747.71 309.55 L747.85 309.26 L747.98 308.96 L748.12 308.64 L748.25 308.31 L748.39 307.96 L748.52 307.59 L748.66 307.2 L748.79 306.79 L748.93 306.35 L749.06 305.89 L749.2 305.4 L749.33 304.87 L749.47 304.31 L749.6 303.7 L749.74 303.05 L749.87 302.35 L750.01 301.58 L750.14 300.75 L750.28 299.83 L750.41 298.82 L750.55 297.69 L750.68 296.43 L750.82 295 L750.95 293.37 L751.09 291.49 L751.22 289.27 L751.36 286.61 L751.49 283.34 L751.63 279.19 L751.76 273.67 L751.9 265.81 L752.03 253.4 L752.35 330.15" fill="none" stroke="#f80018" stroke-width="1.1" stroke-linejoin="miter" stroke-miterlimit="10"/>
</g>
<text transform="translate(644.17 349.4) scale(1 1.03)" font-size="14.3" xml:space="preserve">-</text>
<path d="M763 0h-180v1147q-65 -62 -170.5 -124t-189.5 -93v174q151 71 264 172t160 196h116v-1472z" transform="translate(649.03 349.4) scale(0.00688 -0.00698)"/>
<text transform="translate(668.55 349.4) scale(1 1.03)" font-size="14.3" xml:space="preserve">-0.5</text>
<text transform="translate(709.64 349.4) scale(1 1.03)" font-size="14.3" xml:space="preserve">0</text>
<text transform="translate(733.83 349.4) scale(1 1.03)" font-size="14.3" xml:space="preserve">0.5</text>
<path d="M763 0h-180v1147q-65 -62 -170.5 -124t-189.5 -93v174q151 71 264 172t160 196h116v-1472z" transform="translate(769.43 349.4) scale(0.00688 -0.00698)"/>
<path d="M644.42 330.15v-2.5M650.53 330.15v-5M656.64 330.15v-2.5M662.75 330.15v-2.5M668.86 330.15v-2.5M674.97 330.15v-2.5M681.07 330.15v-5M687.18 330.15v-2.5M693.29 330.15v-2.5M699.4 330.15v-2.5M705.51 330.15v-2.5M711.62 330.15v-5M717.73 330.15v-2.5M723.84 330.15v-2.5M729.95 330.15v-2.5M736.06 330.15v-2.5M742.17 330.15v-5M748.27 330.15v-2.5M754.38 330.15v-2.5M760.49 330.15v-2.5M766.6 330.15v-2.5M772.71 330.15v-5M778.82 330.15v-2.5" stroke="#000" stroke-width="0.75" fill="none"/>
<text transform="translate(631.87 334.9) scale(1 1.03)" font-size="14.3" xml:space="preserve">0</text>
<path d="M763 0h-180v1147q-65 -62 -170.5 -124t-189.5 -93v174q151 71 264 172t160 196h116v-1472z" transform="translate(631.97 314.91) scale(0.00688 -0.00698)"/>
<text transform="translate(631.87 294.92) scale(1 1.03)" font-size="14.3" xml:space="preserve">2</text>
<text transform="translate(631.87 274.94) scale(1 1.03)" font-size="14.3" xml:space="preserve">3</text>
<text transform="translate(631.87 254.95) scale(1 1.03)" font-size="14.3" xml:space="preserve">4</text>
<path d="M644.42 330.15h5M644.42 326.15h2.5M644.42 322.15h2.5M644.42 318.16h2.5M644.42 314.16h2.5M644.42 310.16h5M644.42 306.16h2.5M644.42 302.17h2.5M644.42 298.17h2.5M644.42 294.17h2.5M644.42 290.17h5M644.42 286.18h2.5M644.42 282.18h2.5M644.42 278.18h2.5M644.42 274.19h2.5M644.42 270.19h5M644.42 266.19h2.5M644.42 262.19h2.5M644.42 258.19h2.5M644.42 254.2h2.5M644.42 250.2h5" stroke="#000" stroke-width="1.2" fill="none"/>
<text x="693.53" y="267.9" font-size="14.3" xml:space="preserve">t = 20</text>
<text x="756.78" y="267.3" font-size="14.3" xml:space="preserve">(h)</text>
</g>
</svg>
</body></html>
